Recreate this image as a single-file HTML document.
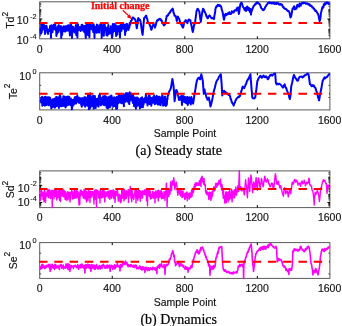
<!DOCTYPE html>
<html><head><meta charset="utf-8"><style>html,body{margin:0;padding:0;background:#fff;width:342px;height:326px;overflow:hidden}svg{display:block;filter:blur(0.35px)}</style></head><body>
<svg width="342" height="326" viewBox="0 0 342 326">
<style>.t{font-family:"Liberation Sans",sans-serif;font-size:10.5px;fill:#111;stroke:#111;stroke-width:0.15px}.sup{font-family:"Liberation Sans",sans-serif;font-size:7.3px;fill:#111;stroke:#111;stroke-width:0.12px}.sup2{font-size:8.5px}.cap{font-family:"Liberation Serif",serif;font-size:14px;fill:#000;stroke:#000;stroke-width:0.2px}</style>
<rect width="342" height="326" fill="#fff"/>
<rect x="39.7" y="1.8" width="290.2" height="37.0" fill="none" stroke="#5a5a5a" stroke-width="1"/>
<line x1="112.25" y1="38.8" x2="112.25" y2="36.3" stroke="#000" stroke-width="1"/>
<line x1="112.25" y1="1.8" x2="112.25" y2="4.3" stroke="#000" stroke-width="1"/>
<line x1="184.80" y1="38.8" x2="184.80" y2="36.3" stroke="#000" stroke-width="1"/>
<line x1="184.80" y1="1.8" x2="184.80" y2="4.3" stroke="#000" stroke-width="1"/>
<line x1="257.35" y1="38.8" x2="257.35" y2="36.3" stroke="#000" stroke-width="1"/>
<line x1="257.35" y1="1.8" x2="257.35" y2="4.3" stroke="#000" stroke-width="1"/>
<line x1="39.7" y1="19.0" x2="42.2" y2="19.0" stroke="#000" stroke-width="1"/>
<line x1="329.9" y1="19.0" x2="327.4" y2="19.0" stroke="#000" stroke-width="1"/>
<line x1="39.7" y1="35.73" x2="41.2" y2="35.73" stroke="#000" stroke-width="0.7"/>
<line x1="329.9" y1="35.73" x2="328.4" y2="35.73" stroke="#000" stroke-width="0.7"/>
<line x1="39.7" y1="34.0" x2="41.2" y2="34.0" stroke="#000" stroke-width="0.7"/>
<line x1="329.9" y1="34.0" x2="328.4" y2="34.0" stroke="#000" stroke-width="0.7"/>
<line x1="39.7" y1="32.77" x2="41.2" y2="32.77" stroke="#000" stroke-width="0.7"/>
<line x1="329.9" y1="32.77" x2="328.4" y2="32.77" stroke="#000" stroke-width="0.7"/>
<line x1="39.7" y1="31.82" x2="41.2" y2="31.82" stroke="#000" stroke-width="0.7"/>
<line x1="329.9" y1="31.82" x2="328.4" y2="31.82" stroke="#000" stroke-width="0.7"/>
<line x1="39.7" y1="31.04" x2="41.2" y2="31.04" stroke="#000" stroke-width="0.7"/>
<line x1="329.9" y1="31.04" x2="328.4" y2="31.04" stroke="#000" stroke-width="0.7"/>
<line x1="39.7" y1="30.38" x2="41.2" y2="30.38" stroke="#000" stroke-width="0.7"/>
<line x1="329.9" y1="30.38" x2="328.4" y2="30.38" stroke="#000" stroke-width="0.7"/>
<line x1="39.7" y1="29.8" x2="41.2" y2="29.8" stroke="#000" stroke-width="0.7"/>
<line x1="329.9" y1="29.8" x2="328.4" y2="29.8" stroke="#000" stroke-width="0.7"/>
<line x1="39.7" y1="29.3" x2="41.2" y2="29.3" stroke="#000" stroke-width="0.7"/>
<line x1="329.9" y1="29.3" x2="328.4" y2="29.3" stroke="#000" stroke-width="0.7"/>
<line x1="39.7" y1="25.88" x2="41.2" y2="25.88" stroke="#000" stroke-width="0.7"/>
<line x1="329.9" y1="25.88" x2="328.4" y2="25.88" stroke="#000" stroke-width="0.7"/>
<line x1="39.7" y1="24.15" x2="41.2" y2="24.15" stroke="#000" stroke-width="0.7"/>
<line x1="329.9" y1="24.15" x2="328.4" y2="24.15" stroke="#000" stroke-width="0.7"/>
<line x1="39.7" y1="22.92" x2="41.2" y2="22.92" stroke="#000" stroke-width="0.7"/>
<line x1="329.9" y1="22.92" x2="328.4" y2="22.92" stroke="#000" stroke-width="0.7"/>
<line x1="39.7" y1="21.97" x2="41.2" y2="21.97" stroke="#000" stroke-width="0.7"/>
<line x1="329.9" y1="21.97" x2="328.4" y2="21.97" stroke="#000" stroke-width="0.7"/>
<line x1="39.7" y1="21.19" x2="41.2" y2="21.19" stroke="#000" stroke-width="0.7"/>
<line x1="329.9" y1="21.19" x2="328.4" y2="21.19" stroke="#000" stroke-width="0.7"/>
<line x1="39.7" y1="20.53" x2="41.2" y2="20.53" stroke="#000" stroke-width="0.7"/>
<line x1="329.9" y1="20.53" x2="328.4" y2="20.53" stroke="#000" stroke-width="0.7"/>
<line x1="39.7" y1="19.95" x2="41.2" y2="19.95" stroke="#000" stroke-width="0.7"/>
<line x1="329.9" y1="19.95" x2="328.4" y2="19.95" stroke="#000" stroke-width="0.7"/>
<line x1="39.7" y1="19.45" x2="41.2" y2="19.45" stroke="#000" stroke-width="0.7"/>
<line x1="329.9" y1="19.45" x2="328.4" y2="19.45" stroke="#000" stroke-width="0.7"/>
<line x1="39.7" y1="16.03" x2="41.2" y2="16.03" stroke="#000" stroke-width="0.7"/>
<line x1="329.9" y1="16.03" x2="328.4" y2="16.03" stroke="#000" stroke-width="0.7"/>
<line x1="39.7" y1="14.3" x2="41.2" y2="14.3" stroke="#000" stroke-width="0.7"/>
<line x1="329.9" y1="14.3" x2="328.4" y2="14.3" stroke="#000" stroke-width="0.7"/>
<line x1="39.7" y1="13.07" x2="41.2" y2="13.07" stroke="#000" stroke-width="0.7"/>
<line x1="329.9" y1="13.07" x2="328.4" y2="13.07" stroke="#000" stroke-width="0.7"/>
<line x1="39.7" y1="12.12" x2="41.2" y2="12.12" stroke="#000" stroke-width="0.7"/>
<line x1="329.9" y1="12.12" x2="328.4" y2="12.12" stroke="#000" stroke-width="0.7"/>
<line x1="39.7" y1="11.34" x2="41.2" y2="11.34" stroke="#000" stroke-width="0.7"/>
<line x1="329.9" y1="11.34" x2="328.4" y2="11.34" stroke="#000" stroke-width="0.7"/>
<line x1="39.7" y1="10.68" x2="41.2" y2="10.68" stroke="#000" stroke-width="0.7"/>
<line x1="329.9" y1="10.68" x2="328.4" y2="10.68" stroke="#000" stroke-width="0.7"/>
<line x1="39.7" y1="10.1" x2="41.2" y2="10.1" stroke="#000" stroke-width="0.7"/>
<line x1="329.9" y1="10.1" x2="328.4" y2="10.1" stroke="#000" stroke-width="0.7"/>
<line x1="39.7" y1="9.6" x2="41.2" y2="9.6" stroke="#000" stroke-width="0.7"/>
<line x1="329.9" y1="9.6" x2="328.4" y2="9.6" stroke="#000" stroke-width="0.7"/>
<line x1="39.7" y1="6.18" x2="41.2" y2="6.18" stroke="#000" stroke-width="0.7"/>
<line x1="329.9" y1="6.18" x2="328.4" y2="6.18" stroke="#000" stroke-width="0.7"/>
<line x1="39.7" y1="4.45" x2="41.2" y2="4.45" stroke="#000" stroke-width="0.7"/>
<line x1="329.9" y1="4.45" x2="328.4" y2="4.45" stroke="#000" stroke-width="0.7"/>
<line x1="39.7" y1="3.22" x2="41.2" y2="3.22" stroke="#000" stroke-width="0.7"/>
<line x1="329.9" y1="3.22" x2="328.4" y2="3.22" stroke="#000" stroke-width="0.7"/>
<rect x="39.7" y="72.8" width="290.2" height="37.10000000000001" fill="none" stroke="#5a5a5a" stroke-width="1"/>
<line x1="112.25" y1="109.9" x2="112.25" y2="107.4" stroke="#000" stroke-width="1"/>
<line x1="112.25" y1="72.8" x2="112.25" y2="75.3" stroke="#000" stroke-width="1"/>
<line x1="184.80" y1="109.9" x2="184.80" y2="107.4" stroke="#000" stroke-width="1"/>
<line x1="184.80" y1="72.8" x2="184.80" y2="75.3" stroke="#000" stroke-width="1"/>
<line x1="257.35" y1="109.9" x2="257.35" y2="107.4" stroke="#000" stroke-width="1"/>
<line x1="257.35" y1="72.8" x2="257.35" y2="75.3" stroke="#000" stroke-width="1"/>
<line x1="39.7" y1="85.3" x2="41.2" y2="85.3" stroke="#000" stroke-width="0.7"/>
<line x1="329.9" y1="85.3" x2="328.4" y2="85.3" stroke="#000" stroke-width="0.7"/>
<line x1="39.7" y1="97.5" x2="41.2" y2="97.5" stroke="#000" stroke-width="0.7"/>
<line x1="329.9" y1="97.5" x2="328.4" y2="97.5" stroke="#000" stroke-width="0.7"/>
<rect x="39.7" y="170.9" width="290.2" height="36.69999999999999" fill="none" stroke="#5a5a5a" stroke-width="1"/>
<line x1="112.25" y1="207.6" x2="112.25" y2="205.1" stroke="#000" stroke-width="1"/>
<line x1="112.25" y1="170.9" x2="112.25" y2="173.4" stroke="#000" stroke-width="1"/>
<line x1="184.80" y1="207.6" x2="184.80" y2="205.1" stroke="#000" stroke-width="1"/>
<line x1="184.80" y1="170.9" x2="184.80" y2="173.4" stroke="#000" stroke-width="1"/>
<line x1="257.35" y1="207.6" x2="257.35" y2="205.1" stroke="#000" stroke-width="1"/>
<line x1="257.35" y1="170.9" x2="257.35" y2="173.4" stroke="#000" stroke-width="1"/>
<line x1="39.7" y1="185.3" x2="42.2" y2="185.3" stroke="#000" stroke-width="1"/>
<line x1="329.9" y1="185.3" x2="327.4" y2="185.3" stroke="#000" stroke-width="1"/>
<line x1="39.7" y1="202.5" x2="42.2" y2="202.5" stroke="#000" stroke-width="1"/>
<line x1="329.9" y1="202.5" x2="327.4" y2="202.5" stroke="#000" stroke-width="1"/>
<line x1="39.7" y1="205.92" x2="41.2" y2="205.92" stroke="#000" stroke-width="0.7"/>
<line x1="329.9" y1="205.92" x2="328.4" y2="205.92" stroke="#000" stroke-width="0.7"/>
<line x1="39.7" y1="205.09" x2="41.2" y2="205.09" stroke="#000" stroke-width="0.7"/>
<line x1="329.9" y1="205.09" x2="328.4" y2="205.09" stroke="#000" stroke-width="0.7"/>
<line x1="39.7" y1="204.41" x2="41.2" y2="204.41" stroke="#000" stroke-width="0.7"/>
<line x1="329.9" y1="204.41" x2="328.4" y2="204.41" stroke="#000" stroke-width="0.7"/>
<line x1="39.7" y1="203.83" x2="41.2" y2="203.83" stroke="#000" stroke-width="0.7"/>
<line x1="329.9" y1="203.83" x2="328.4" y2="203.83" stroke="#000" stroke-width="0.7"/>
<line x1="39.7" y1="203.33" x2="41.2" y2="203.33" stroke="#000" stroke-width="0.7"/>
<line x1="329.9" y1="203.33" x2="328.4" y2="203.33" stroke="#000" stroke-width="0.7"/>
<line x1="39.7" y1="202.89" x2="41.2" y2="202.89" stroke="#000" stroke-width="0.7"/>
<line x1="329.9" y1="202.89" x2="328.4" y2="202.89" stroke="#000" stroke-width="0.7"/>
<line x1="39.7" y1="199.91" x2="41.2" y2="199.91" stroke="#000" stroke-width="0.7"/>
<line x1="329.9" y1="199.91" x2="328.4" y2="199.91" stroke="#000" stroke-width="0.7"/>
<line x1="39.7" y1="198.4" x2="41.2" y2="198.4" stroke="#000" stroke-width="0.7"/>
<line x1="329.9" y1="198.4" x2="328.4" y2="198.4" stroke="#000" stroke-width="0.7"/>
<line x1="39.7" y1="197.32" x2="41.2" y2="197.32" stroke="#000" stroke-width="0.7"/>
<line x1="329.9" y1="197.32" x2="328.4" y2="197.32" stroke="#000" stroke-width="0.7"/>
<line x1="39.7" y1="196.49" x2="41.2" y2="196.49" stroke="#000" stroke-width="0.7"/>
<line x1="329.9" y1="196.49" x2="328.4" y2="196.49" stroke="#000" stroke-width="0.7"/>
<line x1="39.7" y1="195.81" x2="41.2" y2="195.81" stroke="#000" stroke-width="0.7"/>
<line x1="329.9" y1="195.81" x2="328.4" y2="195.81" stroke="#000" stroke-width="0.7"/>
<line x1="39.7" y1="195.23" x2="41.2" y2="195.23" stroke="#000" stroke-width="0.7"/>
<line x1="329.9" y1="195.23" x2="328.4" y2="195.23" stroke="#000" stroke-width="0.7"/>
<line x1="39.7" y1="194.73" x2="41.2" y2="194.73" stroke="#000" stroke-width="0.7"/>
<line x1="329.9" y1="194.73" x2="328.4" y2="194.73" stroke="#000" stroke-width="0.7"/>
<line x1="39.7" y1="194.29" x2="41.2" y2="194.29" stroke="#000" stroke-width="0.7"/>
<line x1="329.9" y1="194.29" x2="328.4" y2="194.29" stroke="#000" stroke-width="0.7"/>
<line x1="39.7" y1="191.31" x2="41.2" y2="191.31" stroke="#000" stroke-width="0.7"/>
<line x1="329.9" y1="191.31" x2="328.4" y2="191.31" stroke="#000" stroke-width="0.7"/>
<line x1="39.7" y1="189.8" x2="41.2" y2="189.8" stroke="#000" stroke-width="0.7"/>
<line x1="329.9" y1="189.8" x2="328.4" y2="189.8" stroke="#000" stroke-width="0.7"/>
<line x1="39.7" y1="188.72" x2="41.2" y2="188.72" stroke="#000" stroke-width="0.7"/>
<line x1="329.9" y1="188.72" x2="328.4" y2="188.72" stroke="#000" stroke-width="0.7"/>
<line x1="39.7" y1="187.89" x2="41.2" y2="187.89" stroke="#000" stroke-width="0.7"/>
<line x1="329.9" y1="187.89" x2="328.4" y2="187.89" stroke="#000" stroke-width="0.7"/>
<line x1="39.7" y1="187.21" x2="41.2" y2="187.21" stroke="#000" stroke-width="0.7"/>
<line x1="329.9" y1="187.21" x2="328.4" y2="187.21" stroke="#000" stroke-width="0.7"/>
<line x1="39.7" y1="186.63" x2="41.2" y2="186.63" stroke="#000" stroke-width="0.7"/>
<line x1="329.9" y1="186.63" x2="328.4" y2="186.63" stroke="#000" stroke-width="0.7"/>
<line x1="39.7" y1="186.13" x2="41.2" y2="186.13" stroke="#000" stroke-width="0.7"/>
<line x1="329.9" y1="186.13" x2="328.4" y2="186.13" stroke="#000" stroke-width="0.7"/>
<line x1="39.7" y1="185.69" x2="41.2" y2="185.69" stroke="#000" stroke-width="0.7"/>
<line x1="329.9" y1="185.69" x2="328.4" y2="185.69" stroke="#000" stroke-width="0.7"/>
<line x1="39.7" y1="182.71" x2="41.2" y2="182.71" stroke="#000" stroke-width="0.7"/>
<line x1="329.9" y1="182.71" x2="328.4" y2="182.71" stroke="#000" stroke-width="0.7"/>
<line x1="39.7" y1="181.2" x2="41.2" y2="181.2" stroke="#000" stroke-width="0.7"/>
<line x1="329.9" y1="181.2" x2="328.4" y2="181.2" stroke="#000" stroke-width="0.7"/>
<line x1="39.7" y1="180.12" x2="41.2" y2="180.12" stroke="#000" stroke-width="0.7"/>
<line x1="329.9" y1="180.12" x2="328.4" y2="180.12" stroke="#000" stroke-width="0.7"/>
<line x1="39.7" y1="179.29" x2="41.2" y2="179.29" stroke="#000" stroke-width="0.7"/>
<line x1="329.9" y1="179.29" x2="328.4" y2="179.29" stroke="#000" stroke-width="0.7"/>
<line x1="39.7" y1="178.61" x2="41.2" y2="178.61" stroke="#000" stroke-width="0.7"/>
<line x1="329.9" y1="178.61" x2="328.4" y2="178.61" stroke="#000" stroke-width="0.7"/>
<line x1="39.7" y1="178.03" x2="41.2" y2="178.03" stroke="#000" stroke-width="0.7"/>
<line x1="329.9" y1="178.03" x2="328.4" y2="178.03" stroke="#000" stroke-width="0.7"/>
<line x1="39.7" y1="177.53" x2="41.2" y2="177.53" stroke="#000" stroke-width="0.7"/>
<line x1="329.9" y1="177.53" x2="328.4" y2="177.53" stroke="#000" stroke-width="0.7"/>
<line x1="39.7" y1="177.09" x2="41.2" y2="177.09" stroke="#000" stroke-width="0.7"/>
<line x1="329.9" y1="177.09" x2="328.4" y2="177.09" stroke="#000" stroke-width="0.7"/>
<line x1="39.7" y1="174.11" x2="41.2" y2="174.11" stroke="#000" stroke-width="0.7"/>
<line x1="329.9" y1="174.11" x2="328.4" y2="174.11" stroke="#000" stroke-width="0.7"/>
<line x1="39.7" y1="172.6" x2="41.2" y2="172.6" stroke="#000" stroke-width="0.7"/>
<line x1="329.9" y1="172.6" x2="328.4" y2="172.6" stroke="#000" stroke-width="0.7"/>
<rect x="39.7" y="242.6" width="290.2" height="35.79999999999998" fill="none" stroke="#5a5a5a" stroke-width="1"/>
<line x1="112.25" y1="278.4" x2="112.25" y2="275.9" stroke="#000" stroke-width="1"/>
<line x1="112.25" y1="242.6" x2="112.25" y2="245.1" stroke="#000" stroke-width="1"/>
<line x1="184.80" y1="278.4" x2="184.80" y2="275.9" stroke="#000" stroke-width="1"/>
<line x1="184.80" y1="242.6" x2="184.80" y2="245.1" stroke="#000" stroke-width="1"/>
<line x1="257.35" y1="278.4" x2="257.35" y2="275.9" stroke="#000" stroke-width="1"/>
<line x1="257.35" y1="242.6" x2="257.35" y2="245.1" stroke="#000" stroke-width="1"/>
<line x1="39.7" y1="253.2" x2="41.2" y2="253.2" stroke="#000" stroke-width="0.7"/>
<line x1="329.9" y1="253.2" x2="328.4" y2="253.2" stroke="#000" stroke-width="0.7"/>
<line x1="39.7" y1="273.9" x2="41.2" y2="273.9" stroke="#000" stroke-width="0.7"/>
<line x1="329.9" y1="273.9" x2="328.4" y2="273.9" stroke="#000" stroke-width="0.7"/>
<clipPath id="c0"><rect x="39.1" y="1.2000000000000002" width="291.8" height="38.2"/></clipPath>
<path clip-path="url(#c0)" d="M40.50,27.34 L40.80,33.71 L41.10,33.32 L41.40,24.61 L41.70,32.32 L42.00,29.56 L42.30,25.15 L42.60,29.80 L42.90,25.95 L43.20,23.57 L43.50,25.11 L43.80,24.02 L44.10,28.54 L44.40,27.14 L44.70,25.92 L45.00,34.00 L45.30,28.23 L45.60,25.95 L45.90,27.01 L46.20,29.45 L46.50,25.83 L46.80,27.84 L47.10,29.33 L47.40,32.43 L47.70,29.71 L48.00,33.85 L48.30,29.98 L48.60,30.83 L48.90,29.78 L49.20,29.16 L49.50,30.98 L49.80,28.67 L50.10,25.97 L50.40,29.86 L50.70,31.00 L51.00,37.80 L51.30,25.18 L51.60,31.88 L51.90,29.85 L52.20,25.91 L52.50,32.15 L52.80,27.41 L53.10,28.97 L53.40,25.12 L53.70,25.53 L54.00,29.33 L54.30,24.38 L54.60,24.86 L54.90,27.21 L55.20,23.93 L55.50,26.39 L55.80,30.10 L56.10,27.81 L56.40,35.96 L56.70,29.83 L57.00,30.11 L57.30,33.65 L57.60,32.02 L57.90,26.36 L58.20,31.85 L58.50,25.71 L58.80,25.04 L59.10,28.70 L59.40,26.17 L59.70,26.79 L60.00,30.03 L60.30,27.36 L60.60,32.07 L60.90,25.96 L61.20,37.97 L61.50,28.01 L61.80,33.20 L62.10,35.00 L62.40,29.48 L62.70,27.15 L63.00,30.04 L63.30,30.04 L63.60,26.18 L63.90,31.24 L64.20,29.94 L64.50,29.40 L64.80,27.90 L65.10,31.62 L65.40,26.22 L65.70,30.60 L66.00,30.53 L66.30,30.72 L66.60,26.11 L66.90,26.01 L67.20,28.87 L67.50,30.37 L67.80,29.14 L68.10,25.25 L68.40,30.82 L68.70,29.62 L69.00,25.54 L69.30,26.44 L69.60,30.68 L69.90,35.50 L70.20,28.68 L70.50,24.45 L70.80,29.82 L71.10,24.55 L71.40,30.56 L71.70,26.26 L72.00,38.00 L72.30,28.99 L72.60,31.46 L72.90,31.35 L73.20,26.64 L73.50,27.53 L73.80,29.97 L74.10,28.80 L74.40,32.54 L74.70,29.06 L75.00,32.18 L75.30,31.99 L75.60,28.89 L75.90,24.94 L76.20,35.00 L76.50,25.35 L76.80,28.90 L77.10,25.85 L77.40,37.50 L77.70,23.91 L78.00,24.86 L78.30,28.79 L78.60,27.29 L78.90,30.13 L79.20,27.95 L79.50,27.31 L79.80,26.97 L80.10,27.30 L80.40,29.10 L80.70,30.97 L81.00,28.11 L81.30,30.13 L81.60,25.00 L81.90,24.71 L82.20,24.76 L82.50,29.65 L82.80,25.41 L83.10,28.99 L83.40,30.71 L83.70,26.12 L84.00,27.57 L84.30,32.28 L84.60,25.97 L84.90,28.91 L85.20,26.32 L85.50,34.91 L85.80,38.00 L86.10,29.80 L86.40,24.80 L86.70,30.80 L87.00,24.73 L87.30,23.97 L87.60,25.66 L87.90,35.00 L88.20,29.67 L88.50,24.26 L88.80,27.53 L89.10,33.48 L89.40,37.18 L89.70,28.39 L90.00,24.29 L90.30,24.39 L90.60,27.72 L90.90,28.75 L91.20,26.66 L91.50,28.87 L91.80,25.62 L92.10,25.17 L92.40,27.14 L92.70,30.39 L93.00,28.21 L93.30,32.27 L93.60,24.17 L93.90,27.83 L94.20,27.08 L94.50,38.00 L94.80,26.55 L95.10,29.60 L95.40,27.21 L95.70,31.18 L96.00,30.28 L96.30,28.95 L96.60,32.72 L96.90,24.56 L97.20,26.41 L97.50,25.06 L97.80,32.26 L98.10,27.07 L98.40,27.19 L98.70,26.00 L99.00,26.85 L99.30,32.58 L99.60,26.47 L99.90,26.84 L100.20,24.32 L100.50,27.81 L100.80,25.62 L101.10,24.06 L101.40,24.63 L101.70,38.00 L102.00,25.65 L102.30,27.95 L102.60,28.98 L102.90,30.78 L103.20,26.27 L103.50,24.76 L103.80,35.63 L104.10,30.67 L104.40,29.24 L104.70,24.23 L105.00,27.11 L105.30,29.46 L105.60,27.62 L105.90,28.43 L106.20,31.37 L106.50,35.18 L106.80,27.83 L107.10,35.50 L107.40,35.53 L107.70,30.25 L108.00,28.77 L108.30,25.05 L108.60,33.95 L108.90,31.12 L109.20,31.30 L109.50,29.15 L109.80,28.93 L110.10,31.26 L110.40,33.37 L110.70,26.26 L111.00,26.37 L111.30,32.69 L111.60,28.86 L111.90,37.50 L112.20,27.02 L112.50,35.92 L112.80,24.04 L113.10,32.26 L113.40,29.41 L113.70,26.30 L114.00,24.35 L114.30,24.51 L114.60,24.08 L114.90,31.29 L115.20,30.26 L115.50,30.91 L115.80,25.36 L116.10,36.00 L116.40,27.57 L116.70,25.95 L117.00,26.24 L117.30,34.56 L117.60,30.10 L117.90,30.73 L118.20,30.48 L118.50,26.21 L118.80,31.25 L119.10,26.13 L119.40,31.59 L119.70,30.08 L120.00,37.50 L120.30,25.48 L120.60,24.85 L120.90,31.25 L121.20,30.02 L121.50,30.85 L121.80,27.67 L122.10,23.25 L122.40,26.64 L122.70,28.25 L123.00,22.89 L123.30,23.51 L123.60,25.41 L123.90,28.96 L124.20,24.69 L124.50,25.12 L124.80,26.03 L125.10,35.00 L125.40,30.56 L125.70,24.80 L126.00,31.22 L126.30,24.25 L126.60,23.87 L126.90,23.83 L127.20,24.99 L127.50,29.44 L127.80,25.74 L128.10,26.28 L128.40,30.09 L128.70,28.83 L129.00,25.25 L129.30,27.63 L129.60,23.19 L129.90,24.02 L130.00,25.00 L130.45,23.64 L130.90,21.00 L131.34,20.77 L131.78,20.08 L132.22,18.17 L132.66,17.47 L133.10,17.40 L133.54,18.11 L133.98,18.79 L134.42,18.62 L134.86,19.20 L135.30,19.50 L135.80,21.73 L136.30,25.21 L136.80,28.30 L137.27,25.46 L137.73,21.89 L138.20,18.00 L138.64,19.10 L139.08,19.86 L139.52,19.45 L139.96,19.85 L140.40,21.00 L140.84,23.30 L141.28,26.59 L141.72,29.59 L142.16,32.74 L142.60,34.90 L143.10,29.58 L143.60,23.84 L144.10,18.00 L144.54,17.95 L144.98,17.10 L145.42,16.81 L145.86,15.68 L146.30,15.90 L146.77,18.00 L147.23,18.93 L147.70,21.00 L148.14,22.47 L148.58,22.96 L149.02,23.37 L149.46,24.00 L149.90,25.40 L150.40,26.52 L150.90,28.52 L151.40,29.80 L151.84,28.90 L152.28,26.90 L152.72,25.66 L153.16,25.11 L153.60,23.90 L154.07,25.25 L154.53,26.21 L155.00,27.60 L155.44,25.75 L155.88,24.82 L156.32,22.53 L156.76,21.48 L157.20,20.30 L157.64,19.94 L158.08,20.34 L158.52,19.60 L158.96,19.64 L159.40,18.80 L159.84,19.07 L160.28,19.03 L160.72,19.35 L161.16,20.64 L161.60,20.30 L162.04,21.61 L162.48,22.07 L162.92,22.69 L163.36,24.38 L163.80,25.40 L164.30,25.14 L164.80,24.29 L165.30,23.90 L165.77,20.89 L166.23,18.80 L166.70,15.90 L167.20,16.26 L167.70,15.05 L168.20,15.20 L168.64,13.81 L169.08,13.49 L169.52,12.87 L169.96,12.50 L170.40,11.50 L170.84,10.50 L171.28,10.76 L171.72,10.09 L172.16,9.19 L172.60,8.60 L173.07,9.91 L173.55,12.71 L174.03,13.51 L174.50,15.50 L175.10,16.20 L175.70,16.00 L176.25,18.12 L176.80,21.00 L177.35,18.41 L177.90,16.60 L178.40,17.93 L178.90,18.25 L179.40,19.50 L179.87,21.60 L180.33,22.43 L180.80,23.90 L181.24,24.20 L181.68,24.99 L182.12,26.00 L182.56,27.09 L183.00,27.60 L183.50,26.26 L184.00,23.17 L184.50,21.70 L185.00,21.08 L185.50,20.36 L186.00,20.30 L186.47,21.93 L186.93,21.73 L187.40,23.20 L187.90,21.34 L188.40,20.12 L188.90,19.50 L189.40,19.62 L189.90,20.59 L190.40,20.30 L190.87,23.04 L191.33,25.03 L191.80,26.90 L192.30,30.15 L192.80,32.00 L193.40,29.30 L194.00,25.40 L194.50,24.16 L195.00,23.40 L195.50,18.83 L196.00,15.74 L196.50,11.00 L196.97,10.61 L197.43,8.88 L197.90,8.80 L198.40,10.00 L198.90,10.56 L199.40,11.70 L200.10,17.50 L200.80,21.90 L201.60,16.10 L202.07,13.49 L202.53,11.00 L203.00,8.80 L203.50,9.30 L204.00,10.04 L204.50,11.70 L205.00,12.36 L205.50,13.43 L206.00,14.60 L206.47,16.47 L206.93,16.54 L207.40,18.30 L207.90,18.22 L208.40,16.42 L208.90,16.10 L209.60,15.40 L210.10,15.90 L210.60,17.25 L211.10,17.50 L211.57,18.22 L212.03,17.94 L212.50,18.30 L213.00,17.90 L213.50,18.73 L214.00,19.00 L214.50,15.42 L215.00,12.79 L215.50,8.80 L215.97,7.37 L216.43,6.61 L216.90,5.80 L217.34,6.22 L217.78,4.86 L218.22,5.26 L218.66,5.68 L219.10,5.10 L219.54,5.91 L219.98,5.34 L220.42,5.77 L220.86,6.25 L221.30,7.30 L221.80,9.85 L222.30,10.89 L222.80,13.20 L223.40,16.80 L224.00,19.70 L224.50,17.71 L225.00,14.60 L225.44,14.07 L225.88,13.77 L226.32,15.28 L226.76,14.32 L227.20,13.90 L227.61,13.23 L228.03,14.22 L228.44,13.16 L228.86,12.96 L229.27,12.21 L229.69,13.91 L230.10,13.20 L230.51,13.99 L230.93,13.09 L231.34,13.62 L231.76,11.20 L232.17,11.49 L232.59,11.85 L233.00,11.70 L233.41,12.58 L233.83,12.36 L234.24,10.78 L234.66,10.25 L235.07,10.46 L235.49,10.40 L235.90,10.20 L236.34,10.65 L236.78,8.28 L237.22,8.88 L237.66,8.21 L238.10,7.30 L238.50,11.05 L238.90,13.90 L239.37,11.12 L239.83,7.72 L240.30,4.40 L240.90,3.26 L241.50,2.60 L241.93,3.52 L242.35,4.76 L242.77,6.52 L243.20,7.30 L243.70,7.68 L244.20,8.81 L244.70,10.20 L245.20,8.00 L245.60,10.41 L246.00,11.00 L246.70,7.00 L247.40,6.60 L248.20,10.00 L248.60,8.09 L249.00,8.00 L249.40,8.43 L249.80,12.00 L250.50,9.00 L251.00,14.60 L251.40,11.12 L251.80,11.00 L252.50,8.80 L253.00,7.77 L253.50,6.36 L254.00,5.50 L254.47,5.57 L254.93,4.84 L255.40,3.70 L255.84,4.14 L256.28,2.89 L256.72,2.40 L257.16,2.17 L257.60,2.50 L258.04,2.88 L258.48,3.55 L258.92,3.57 L259.36,3.65 L259.80,4.40 L260.30,5.48 L260.80,6.97 L261.30,8.00 L261.74,8.68 L262.18,9.23 L262.62,9.81 L263.06,9.99 L263.50,10.20 L263.97,8.94 L264.43,9.21 L264.90,8.00 L265.40,6.74 L265.90,6.16 L266.40,5.10 L266.84,4.42 L267.28,4.43 L267.72,3.18 L268.16,2.75 L268.60,2.60 L269.05,2.28 L269.50,2.19 L269.95,3.25 L270.40,2.86 L270.85,2.54 L271.30,2.68 L271.75,3.55 L272.20,2.90 L272.62,2.97 L273.04,2.64 L273.46,3.50 L273.89,3.34 L274.31,3.87 L274.73,2.69 L275.15,3.26 L275.57,3.80 L275.99,3.89 L276.41,4.05 L276.84,2.89 L277.26,3.30 L277.68,3.11 L278.10,3.70 L278.55,3.35 L279.00,4.54 L279.45,4.08 L279.90,4.65 L280.35,3.96 L280.80,4.74 L281.25,4.24 L281.70,4.40 L282.14,4.78 L282.58,6.23 L283.02,7.18 L283.46,6.73 L283.90,8.00 L284.33,8.45 L284.76,8.80 L285.19,8.55 L285.61,9.07 L286.04,9.07 L286.47,9.47 L286.90,10.20 L287.34,10.16 L287.78,10.94 L288.22,11.31 L288.66,10.98 L289.10,11.70 L289.57,12.95 L290.03,15.32 L290.50,17.50 L291.20,16.00 L291.60,14.10 L292.00,11.70 L292.55,8.61 L293.10,8.80 L293.60,7.32 L294.10,6.26 L294.60,7.30 L295.05,9.44 L295.50,8.50 L296.20,8.80 L296.62,8.45 L297.05,5.33 L297.47,4.93 L297.90,6.40 L298.30,5.67 L298.70,6.29 L299.10,6.57 L299.50,3.54 L299.90,3.73 L300.30,5.30 L300.73,5.74 L301.15,3.68 L301.57,3.27 L302.00,3.00 L302.48,2.69 L302.96,3.55 L303.44,2.62 L303.92,2.93 L304.40,2.80 L304.86,2.70 L305.32,2.88 L305.78,3.61 L306.24,3.90 L306.70,3.30 L307.16,3.39 L307.62,3.44 L308.08,4.46 L308.54,4.01 L309.00,4.70 L309.48,4.23 L309.96,5.70 L310.44,5.25 L310.92,6.03 L311.40,5.80 L311.86,6.27 L312.32,7.54 L312.78,7.55 L313.24,7.73 L313.70,8.80 L314.11,8.54 L314.53,9.70 L314.94,10.24 L315.36,11.03 L315.77,10.30 L316.19,11.46 L316.60,11.70 L317.05,12.39 L317.50,13.46 L317.95,13.83 L318.40,15.20 L318.80,16.83 L319.20,19.10 L319.60,21.00 L320.05,19.85 L320.50,17.50 L320.90,13.19 L321.30,11.70 L321.90,9.32 L322.50,7.00 L322.93,7.60 L323.35,7.68 L323.77,4.41 L324.20,5.00 L324.65,3.16 L325.10,4.62 L325.55,4.17 L326.00,3.00 L326.43,2.88 L326.85,2.17 L327.27,3.30 L327.70,2.60 L328.15,2.84 L328.60,3.97 L329.05,3.97 L329.50,4.20" fill="none" stroke="#0000ff" stroke-width="2.0" stroke-linejoin="round"/>
<clipPath id="c1"><rect x="39.1" y="72.2" width="291.8" height="38.30000000000001"/></clipPath>
<path d="M40.50,98.13 L41.50,98.20 L42.50,98.27 L43.50,98.38 L44.50,98.54 L45.50,98.70 L46.50,98.94 L47.50,99.18 L48.50,99.38 L49.50,99.53 L50.50,99.67 L51.50,99.83 L52.50,99.85 L53.50,99.75 L54.50,99.65 L55.50,99.55 L56.50,99.45 L57.50,99.35 L58.50,99.20 L59.50,99.00 L60.50,98.80 L61.50,98.70 L62.50,98.70 L63.50,98.70 L64.50,98.78 L65.50,98.92 L66.50,99.08 L67.50,99.22 L68.50,99.26 L69.50,99.19 L70.50,99.11 L71.50,99.04 L72.50,98.95 L73.50,98.85 L74.50,98.75 L75.50,98.70 L76.50,98.70 L77.50,98.70 L78.50,98.74 L79.50,98.81 L80.50,98.89 L81.50,98.96 L82.50,98.88 L83.50,98.62 L84.50,98.38 L85.50,98.12 L86.50,97.94 L87.50,97.81 L88.50,97.69 L89.50,97.56 L90.50,97.53 L91.50,97.58 L92.50,97.62 L93.50,97.67 L94.50,97.77 L95.50,97.90 L96.50,98.03 L97.50,98.10 L98.50,98.10 L99.50,98.10 L100.50,98.10 L101.50,98.10 L102.50,98.17 L103.50,98.30 L104.50,98.43 L105.50,98.50 L106.50,98.50 L107.50,98.50 L108.50,98.42 L109.50,98.25 L110.50,98.08 L111.50,98.00 L112.50,98.00 L113.50,98.00 L114.50,98.00 L115.50,98.02 L116.50,98.05 L117.50,98.08 L118.50,98.07 L119.50,98.00 L120.50,97.93 L121.50,97.58 L122.50,96.95 L123.50,96.32 L124.50,95.75 L125.50,95.25 L126.50,94.75 L127.50,94.67 L128.50,95.00 L129.50,95.33 L130.50,95.83 L131.50,96.50 L132.50,97.17 L133.50,97.83 L134.50,98.50 L135.50,99.17 L136.50,99.56 L137.50,99.69 L138.50,99.81 L139.50,99.94 L140.50,99.96 L141.50,99.89 L142.50,99.81 L143.50,99.74 L144.50,99.43 L145.50,98.90 L146.50,98.37 L147.50,97.92 L148.50,97.55 L149.50,97.18 L150.50,96.96 L151.50,96.89 L152.50,96.81 L153.50,96.74 L154.50,96.80 L155.50,97.00 L156.50,97.20 L157.50,97.40 L158.50,97.56 L159.50,97.69 L160.50,97.81 L161.50,97.94 L162.50,98.00 L163.50,98.00 L164.50,98.00 L165.50,98.10 L166.50,98.30 L167.50,98.50 L167.50,102.00 L166.50,102.40 L165.50,102.80 L164.50,102.92 L163.50,102.75 L162.50,102.58 L161.50,102.44 L160.50,102.31 L159.50,102.19 L158.50,102.06 L157.50,101.91 L156.50,101.74 L155.50,101.56 L154.50,101.39 L153.50,101.35 L152.50,101.45 L151.50,101.55 L150.50,101.65 L149.50,101.88 L148.50,102.25 L147.50,102.62 L146.50,102.92 L145.50,103.15 L144.50,103.38 L143.50,103.62 L142.50,103.88 L141.50,104.12 L140.50,104.38 L139.50,104.47 L138.50,104.42 L137.50,104.38 L136.50,104.33 L135.50,103.92 L134.50,103.15 L133.50,102.38 L132.50,101.75 L131.50,101.25 L130.50,100.75 L129.50,100.40 L128.50,100.20 L127.50,100.00 L126.50,99.97 L125.50,100.10 L124.50,100.23 L123.50,100.42 L122.50,100.65 L121.50,100.88 L120.50,101.17 L119.50,101.50 L118.50,101.83 L117.50,102.25 L116.50,102.75 L115.50,103.25 L114.50,103.69 L113.50,104.06 L112.50,104.44 L111.50,104.81 L110.50,105.08 L109.50,105.25 L108.50,105.42 L107.50,105.17 L106.50,104.50 L105.50,103.83 L104.50,103.08 L103.50,102.25 L102.50,101.42 L101.50,101.20 L100.50,101.60 L99.50,102.00 L98.50,102.40 L97.50,102.80 L96.50,103.33 L95.50,104.00 L94.50,104.67 L93.50,105.12 L92.50,105.38 L91.50,105.62 L90.50,105.88 L89.50,105.88 L88.50,105.62 L87.50,105.38 L86.50,105.12 L85.50,104.75 L84.50,104.25 L83.50,103.75 L82.50,103.25 L81.50,102.81 L80.50,102.44 L79.50,102.06 L78.50,101.69 L77.50,101.75 L76.50,102.25 L75.50,102.75 L74.50,103.25 L73.50,103.75 L72.50,104.25 L71.50,104.46 L70.50,104.39 L69.50,104.31 L68.50,104.24 L67.50,104.11 L66.50,103.94 L65.50,103.76 L64.50,103.59 L63.50,103.55 L62.50,103.65 L61.50,103.75 L60.50,103.97 L59.50,104.30 L58.50,104.63 L57.50,104.72 L56.50,104.58 L55.50,104.46 L54.50,104.39 L53.50,104.31 L52.50,104.24 L51.50,104.05 L50.50,103.75 L49.50,103.45 L48.50,103.15 L47.50,102.90 L46.50,102.70 L45.50,102.50 L44.50,101.90 L43.50,101.30 L42.50,100.85 L41.50,100.55 L40.50,100.25 Z" fill="#0000ff"/>
<path clip-path="url(#c1)" d="M40.50,102.39 L40.70,102.17 L40.90,99.49 L41.10,102.55 L41.30,98.14 L41.50,100.30 L41.70,97.39 L41.90,101.79 L42.10,96.69 L42.30,105.64 L42.50,97.16 L42.70,100.41 L42.90,98.53 L43.10,100.66 L43.30,101.30 L43.50,105.02 L43.70,100.05 L43.90,102.33 L44.10,99.90 L44.30,100.08 L44.50,97.24 L44.70,96.95 L44.90,105.80 L45.10,96.90 L45.30,103.03 L45.50,96.67 L45.70,99.55 L45.90,97.41 L46.10,105.04 L46.30,103.42 L46.50,104.88 L46.70,104.63 L46.90,97.59 L47.10,104.34 L47.30,99.19 L47.50,97.47 L47.70,98.48 L47.90,97.32 L48.10,104.17 L48.30,98.38 L48.50,105.14 L48.70,97.53 L48.90,102.21 L49.10,97.71 L49.30,97.31 L49.50,102.10 L49.70,104.36 L49.90,101.85 L50.10,97.67 L50.30,102.59 L50.50,104.28 L50.70,106.21 L50.90,100.59 L51.10,101.50 L51.30,108.50 L51.50,100.03 L51.70,106.91 L51.90,104.05 L52.10,107.41 L52.30,103.71 L52.50,102.75 L52.70,99.17 L52.90,107.00 L53.10,101.19 L53.30,101.15 L53.50,103.22 L53.70,99.55 L53.90,102.03 L54.10,106.32 L54.30,98.75 L54.50,103.32 L54.70,104.61 L54.90,107.66 L55.10,102.38 L55.30,103.13 L55.50,105.90 L55.70,99.24 L55.90,97.24 L56.10,100.76 L56.30,97.38 L56.50,96.94 L56.70,106.16 L56.90,98.86 L57.10,101.99 L57.30,105.17 L57.50,100.14 L57.70,97.52 L57.90,105.16 L58.10,97.13 L58.30,104.83 L58.50,104.79 L58.70,99.38 L58.90,107.88 L59.10,104.81 L59.30,105.78 L59.50,99.61 L59.70,101.33 L59.90,94.50 L60.10,103.35 L60.30,98.75 L60.50,96.50 L60.70,98.75 L60.90,106.19 L61.10,99.54 L61.30,99.51 L61.50,105.60 L61.70,103.28 L61.90,106.25 L62.10,104.73 L62.30,104.87 L62.50,103.45 L62.70,99.11 L62.90,102.34 L63.10,105.24 L63.30,96.28 L63.50,105.32 L63.70,106.01 L63.90,102.88 L64.10,102.90 L64.30,96.79 L64.50,99.68 L64.70,104.03 L64.90,96.86 L65.10,104.84 L65.30,97.25 L65.50,107.42 L65.70,103.75 L65.90,103.83 L66.10,98.84 L66.30,97.08 L66.50,98.04 L66.70,105.64 L66.90,98.75 L67.10,99.55 L67.30,105.11 L67.50,104.13 L67.70,96.54 L67.90,100.42 L68.10,99.66 L68.30,101.58 L68.50,104.85 L68.70,104.60 L68.90,96.65 L69.10,104.40 L69.30,96.89 L69.50,102.00 L69.70,98.98 L69.90,100.81 L70.10,100.03 L70.30,100.39 L70.50,104.97 L70.70,98.71 L70.90,98.45 L71.10,105.24 L71.30,104.52 L71.50,102.03 L71.70,107.43 L71.90,109.60 L72.10,100.36 L72.30,102.84 L72.50,106.81 L72.70,102.06 L72.90,104.97 L73.10,103.60 L73.30,100.08 L73.50,105.11 L73.70,103.84 L73.90,100.61 L74.10,101.77 L74.30,100.44 L74.50,98.16 L74.70,98.61 L74.90,103.42 L75.10,97.07 L75.30,98.51 L75.50,96.99 L75.70,97.19 L75.90,101.71 L76.10,103.57 L76.30,98.72 L76.50,102.03 L76.70,99.07 L76.90,100.67 L77.10,97.22 L77.30,95.86 L77.50,101.77 L77.70,99.48 L77.90,99.18 L78.10,100.28 L78.30,101.44 L78.50,99.07 L78.70,101.70 L78.90,97.55 L79.10,102.98 L79.30,101.59 L79.50,101.51 L79.70,99.69 L79.90,101.28 L80.10,99.58 L80.30,102.25 L80.50,98.30 L80.70,100.23 L80.90,99.95 L81.10,104.74 L81.30,102.42 L81.50,100.18 L81.70,106.63 L81.90,98.42 L82.10,105.62 L82.30,98.07 L82.50,102.23 L82.70,102.07 L82.90,105.17 L83.10,101.26 L83.30,99.36 L83.50,101.16 L83.70,98.49 L83.90,100.79 L84.10,99.93 L84.30,97.16 L84.50,101.32 L84.70,100.52 L84.90,99.03 L85.10,106.78 L85.30,98.70 L85.50,100.52 L85.70,97.36 L85.90,105.21 L86.10,101.09 L86.30,98.05 L86.50,99.49 L86.70,105.16 L86.90,100.75 L87.10,101.72 L87.30,105.35 L87.50,105.60 L87.70,99.45 L87.90,100.11 L88.10,94.50 L88.30,98.22 L88.50,98.53 L88.70,100.28 L88.90,109.30 L89.10,107.26 L89.30,95.32 L89.50,107.10 L89.70,96.54 L89.90,108.54 L90.10,107.85 L90.30,93.20 L90.50,96.69 L90.70,105.26 L90.90,96.86 L91.10,105.30 L91.30,106.51 L91.50,104.98 L91.70,106.33 L91.90,105.52 L92.10,103.59 L92.30,104.13 L92.50,105.78 L92.70,98.20 L92.90,96.69 L93.10,95.75 L93.30,96.81 L93.50,101.02 L93.70,108.77 L93.90,100.74 L94.10,103.05 L94.30,99.74 L94.50,106.41 L94.70,102.77 L94.90,96.05 L95.10,103.32 L95.30,99.50 L95.50,101.50 L95.70,108.03 L95.90,102.74 L96.10,105.23 L96.30,101.12 L96.50,104.17 L96.70,100.64 L96.90,101.79 L97.10,99.06 L97.30,100.11 L97.50,98.68 L97.70,105.67 L97.90,103.70 L98.10,98.82 L98.30,101.38 L98.50,106.61 L98.70,104.05 L98.90,95.80 L99.10,95.32 L99.30,103.95 L99.50,101.34 L99.70,103.58 L99.90,93.80 L100.10,101.44 L100.30,101.24 L100.50,101.07 L100.70,101.86 L100.90,105.32 L101.10,103.05 L101.30,98.54 L101.50,101.94 L101.70,97.71 L101.90,99.03 L102.10,99.18 L102.30,103.30 L102.50,104.13 L102.70,102.64 L102.90,103.68 L103.10,96.21 L103.30,101.17 L103.50,104.64 L103.70,99.74 L103.90,101.87 L104.10,105.19 L104.30,102.36 L104.50,105.10 L104.70,104.27 L104.90,96.01 L105.10,98.19 L105.30,97.60 L105.50,103.59 L105.70,104.51 L105.90,96.44 L106.10,103.12 L106.30,105.63 L106.50,106.10 L106.70,107.69 L106.90,104.74 L107.10,99.10 L107.30,97.51 L107.50,101.31 L107.70,100.02 L107.90,108.50 L108.10,97.53 L108.30,100.15 L108.50,103.33 L108.70,100.44 L108.90,107.08 L109.10,102.59 L109.30,96.59 L109.50,104.17 L109.70,99.76 L109.90,107.36 L110.10,102.88 L110.30,100.81 L110.50,100.16 L110.70,102.79 L110.90,105.20 L111.10,95.61 L111.30,100.58 L111.50,105.20 L111.70,96.09 L111.90,105.11 L112.10,102.30 L112.30,105.57 L112.50,103.65 L112.70,99.76 L112.90,102.19 L113.10,98.15 L113.30,106.60 L113.50,102.91 L113.70,101.32 L113.90,98.97 L114.10,105.05 L114.30,97.15 L114.50,104.79 L114.70,102.62 L114.90,105.92 L115.10,101.37 L115.30,98.20 L115.50,98.04 L115.70,99.85 L115.90,100.12 L116.10,108.80 L116.30,99.51 L116.50,101.87 L116.70,97.05 L116.90,98.68 L117.10,108.80 L117.30,103.05 L117.50,100.11 L117.70,101.76 L117.90,102.97 L118.10,101.67 L118.30,103.24 L118.50,96.05 L118.70,94.91 L118.90,101.56 L119.10,102.11 L119.30,94.97 L119.50,97.66 L119.70,102.15 L119.90,99.05 L120.10,102.21 L120.30,97.84 L120.50,96.10 L120.70,102.73 L120.90,95.34 L121.10,97.88 L121.30,102.37 L121.50,95.43 L121.70,100.95 L121.90,103.35 L122.10,96.18 L122.30,103.11 L122.50,97.47 L122.70,101.57 L122.90,97.60 L123.10,95.69 L123.30,96.01 L123.50,95.67 L123.70,94.31 L123.90,106.34 L124.10,96.10 L124.30,102.34 L124.50,95.14 L124.70,94.62 L124.90,101.94 L125.10,97.99 L125.30,101.63 L125.50,99.61 L125.70,95.45 L125.90,100.34 L126.10,93.00 L126.30,95.67 L126.50,94.45 L126.70,101.35 L126.90,94.39 L127.10,95.89 L127.30,93.84 L127.50,93.28 L127.70,99.48 L127.90,97.54 L128.10,95.31 L128.30,96.35 L128.50,102.66 L128.70,93.60 L128.90,101.53 L129.10,99.78 L129.30,104.11 L129.50,95.82 L129.70,92.37 L129.90,97.59 L130.10,96.68 L130.30,94.54 L130.50,93.79 L130.70,100.22 L130.90,94.55 L131.10,93.56 L131.30,97.78 L131.50,95.03 L131.70,100.21 L131.90,99.14 L132.10,94.20 L132.30,97.80 L132.50,94.56 L132.70,97.54 L132.90,102.89 L133.10,94.94 L133.30,99.63 L133.50,97.86 L133.70,103.49 L133.90,97.36 L134.10,106.23 L134.30,100.46 L134.50,97.60 L134.70,104.29 L134.90,99.82 L135.10,100.53 L135.30,97.70 L135.50,106.09 L135.70,102.12 L135.90,108.80 L136.10,99.58 L136.30,98.44 L136.50,106.80 L136.70,103.90 L136.90,97.58 L137.10,102.74 L137.30,103.92 L137.50,105.50 L137.70,97.77 L137.90,102.03 L138.10,100.02 L138.30,101.27 L138.50,103.12 L138.70,98.86 L138.90,104.79 L139.10,105.67 L139.30,101.41 L139.50,105.99 L139.70,101.60 L139.90,108.50 L140.10,100.10 L140.30,102.06 L140.50,105.78 L140.70,105.84 L140.90,98.08 L141.10,107.13 L141.30,99.93 L141.50,103.67 L141.70,102.55 L141.90,101.47 L142.10,97.36 L142.30,106.39 L142.50,105.90 L142.70,104.53 L142.90,107.16 L143.10,99.27 L143.30,99.27 L143.50,104.96 L143.70,98.96 L143.90,100.50 L144.10,99.19 L144.30,102.16 L144.50,101.65 L144.70,100.92 L144.90,100.48 L145.10,97.77 L145.30,97.60 L145.50,99.91 L145.70,98.51 L145.90,94.00 L146.10,101.63 L146.30,101.98 L146.50,102.50 L146.70,101.05 L146.90,100.30 L147.10,98.18 L147.30,100.59 L147.50,105.49 L147.70,103.73 L147.90,100.78 L148.10,98.09 L148.30,98.07 L148.50,96.60 L148.70,103.45 L148.90,95.35 L149.10,98.97 L149.30,95.53 L149.50,103.99 L149.70,95.73 L149.90,97.64 L150.10,100.28 L150.30,102.37 L150.50,101.52 L150.70,101.74 L150.90,102.01 L151.10,103.36 L151.30,105.70 L151.50,100.05 L151.70,103.92 L151.90,98.44 L152.10,103.06 L152.30,98.16 L152.50,98.99 L152.70,97.40 L152.90,100.01 L153.10,97.76 L153.30,102.87 L153.50,98.96 L153.70,97.62 L153.90,100.17 L154.10,95.58 L154.30,97.82 L154.50,102.62 L154.70,96.73 L154.90,104.15 L155.10,100.06 L155.30,103.33 L155.50,99.80 L155.70,99.60 L155.90,101.15 L156.10,98.12 L156.30,98.07 L156.50,101.13 L156.70,95.76 L156.90,98.62 L157.10,100.29 L157.30,104.03 L157.50,99.13 L157.70,104.48 L157.90,100.10 L158.10,96.70 L158.30,104.51 L158.50,100.06 L158.70,103.78 L158.90,103.09 L159.10,103.76 L159.30,96.67 L159.50,100.10 L159.70,96.94 L159.90,101.18 L160.10,98.46 L160.30,105.16 L160.50,102.52 L160.70,104.84 L160.90,102.89 L161.10,101.16 L161.30,99.48 L161.50,97.24 L161.70,99.69 L161.90,100.06 L162.10,95.82 L162.30,101.76 L162.50,95.61 L162.70,99.59 L162.90,100.49 L163.10,105.68 L163.30,97.93 L163.50,98.33 L163.70,97.63 L163.90,103.85 L164.10,98.70 L164.30,99.21 L164.50,104.28 L164.70,105.16 L164.90,102.01 L165.10,96.48 L165.30,104.56 L165.50,105.07 L165.70,99.40 L165.90,105.90 L166.10,105.68 L166.30,100.41 L166.50,98.86 L166.70,104.93 L166.90,104.11 L167.10,98.40 L167.30,98.48 L167.50,99.35 L167.60,96.60 L168.23,94.96 L168.87,92.32 L169.50,91.00 L170.20,89.64 L170.90,88.10 L171.40,84.87 L171.90,82.03 L172.40,79.00 L173.00,82.52 L173.60,86.60 L174.10,93.29 L174.60,101.20 L175.13,97.20 L175.67,93.35 L176.20,90.00 L176.85,90.73 L177.50,92.50 L178.00,95.30 L178.50,97.20 L179.00,100.00 L179.70,98.31 L180.40,96.90 L180.60,96.43 L180.80,99.79 L181.00,98.62 L181.20,98.77 L181.40,96.11 L181.60,96.58 L181.80,102.13 L182.00,105.00 L182.20,97.58 L182.40,97.17 L182.60,97.91 L182.80,97.56 L183.00,96.00 L183.20,100.90 L183.40,98.41 L183.60,96.99 L183.80,101.24 L184.00,96.53 L184.20,97.91 L184.40,102.24 L184.60,96.85 L184.80,99.27 L185.00,102.26 L185.20,102.02 L185.40,97.15 L185.60,98.62 L185.80,101.41 L186.00,98.83 L186.20,103.20 L186.40,97.59 L186.60,103.18 L186.80,99.85 L187.00,97.79 L187.20,99.49 L187.40,97.10 L187.60,101.43 L187.80,105.00 L188.00,102.91 L188.20,100.59 L188.40,98.96 L188.60,98.06 L188.80,100.79 L189.00,97.84 L189.20,102.81 L189.40,97.20 L189.60,100.14 L189.80,100.38 L190.00,98.36 L190.20,102.13 L190.40,99.25 L190.60,101.31 L190.80,104.50 L191.00,98.74 L191.20,99.35 L191.40,97.09 L191.60,97.79 L191.80,102.86 L192.00,98.90 L192.10,100.50 L192.60,102.62 L193.10,103.60 L193.80,99.28 L194.50,94.20 L195.07,91.34 L195.63,87.91 L196.20,84.00 L196.85,80.99 L197.50,79.00 L198.10,78.09 L198.70,77.80 L199.20,77.64 L199.70,79.05 L200.20,79.30 L200.75,76.98 L201.30,74.20 L201.80,76.19 L202.30,78.48 L202.80,80.80 L203.30,87.57 L203.80,93.90 L204.50,89.50 L205.00,91.75 L205.50,93.08 L206.00,95.40 L206.50,97.35 L207.00,98.13 L207.50,99.80 L208.20,98.88 L208.90,97.60 L209.40,100.09 L209.90,102.93 L210.40,106.40 L210.90,105.24 L211.40,103.26 L211.90,101.20 L212.60,97.85 L213.30,93.90 L213.80,91.32 L214.30,89.39 L214.80,88.10 L215.50,84.68 L216.20,82.20 L216.77,80.81 L217.33,79.99 L217.90,79.30 L218.40,78.17 L218.90,76.72 L219.40,76.40 L220.10,75.04 L220.80,74.20 L221.60,83.70 L222.30,95.40 L223.00,91.00 L223.55,91.37 L224.10,90.90 L224.65,92.00 L225.20,91.70 L225.75,92.35 L226.30,93.10 L226.85,93.01 L227.40,93.90 L227.95,94.18 L228.50,94.91 L229.05,94.81 L229.60,95.40 L230.10,96.17 L230.60,98.80 L231.10,99.80 L231.80,101.99 L232.50,103.40 L233.10,104.20 L233.70,105.60 L234.30,103.26 L234.90,102.70 L235.50,100.50 L236.05,99.93 L236.60,98.42 L237.15,97.97 L237.70,97.60 L238.25,96.68 L238.80,97.26 L239.35,96.07 L239.90,96.10 L240.60,94.13 L241.30,91.00 L241.80,89.88 L242.30,87.49 L242.80,86.60 L243.50,87.62 L244.20,88.10 L244.70,86.72 L245.20,85.98 L245.70,84.40 L246.20,83.66 L246.70,81.69 L247.20,80.80 L247.77,79.23 L248.33,79.42 L248.90,77.80 L249.40,76.49 L249.90,76.00 L250.40,74.20 L250.95,81.42 L251.50,88.10 L252.30,97.60 L253.00,98.28 L253.70,98.30 L254.20,98.53 L254.70,98.01 L255.20,97.60 L255.70,94.23 L256.20,91.00 L256.80,85.28 L257.40,80.80 L257.90,80.08 L258.40,78.70 L258.90,77.80 L259.60,76.77 L260.30,75.70 L260.80,77.00 L261.30,76.58 L261.80,77.80 L262.50,77.12 L263.20,75.70 L263.70,75.53 L264.20,76.92 L264.70,77.10 L265.27,77.29 L265.83,76.30 L266.40,76.40 L267.10,77.91 L267.80,79.30 L268.30,78.99 L268.80,77.56 L269.30,76.40 L269.80,75.96 L270.30,75.05 L270.80,74.90 L271.50,74.68 L272.20,75.70 L272.70,75.00 L273.20,74.58 L273.70,74.20 L274.20,73.55 L274.70,73.47 L275.20,73.50 L275.90,83.00 L276.60,84.40 L277.10,83.66 L277.60,84.22 L278.10,83.70 L278.65,84.11 L279.20,83.68 L279.75,83.86 L280.30,84.40 L281.00,85.17 L281.70,85.90 L282.20,86.32 L282.70,87.51 L283.20,87.40 L283.70,86.19 L284.20,85.12 L284.70,84.40 L285.20,86.44 L285.70,87.40 L286.30,88.35 L286.90,90.30 L287.60,91.84 L288.30,93.20 L288.80,94.90 L289.30,97.51 L289.80,99.00 L290.50,95.40 L291.20,86.60 L291.70,84.47 L292.20,82.56 L292.70,80.00 L293.30,76.99 L293.90,74.90 L294.40,76.23 L294.90,77.10 L295.40,77.97 L295.90,78.51 L296.40,79.30 L297.05,80.42 L297.70,80.80 L298.20,80.26 L298.70,78.26 L299.20,77.51 L299.70,76.80 L300.24,76.74 L300.78,76.67 L301.32,76.60 L301.86,77.05 L302.40,77.50 L302.94,76.66 L303.48,76.94 L304.02,76.17 L304.56,75.28 L305.10,75.40 L305.64,74.81 L306.18,74.68 L306.72,74.19 L307.26,73.58 L307.80,73.70 L308.50,74.10 L309.20,78.55 L309.90,84.20 L310.55,84.22 L311.20,85.60 L311.74,86.29 L312.28,85.95 L312.82,85.02 L313.36,85.90 L313.90,85.60 L314.60,87.27 L315.30,87.60 L315.95,89.69 L316.60,91.60 L317.30,93.80 L318.00,97.10 L318.55,98.73 L319.10,100.40 L320.00,95.00 L320.70,91.56 L321.40,88.30 L322.05,84.12 L322.70,80.80 L323.40,79.51 L324.10,78.10 L324.60,77.26 L325.10,78.39 L325.60,77.85 L326.10,77.50 L326.60,77.15 L327.10,77.06 L327.60,76.14 L328.10,75.40 L328.73,74.62 L329.37,74.18 L330.00,74.10" fill="none" stroke="#0000ff" stroke-width="2.0" stroke-linejoin="round"/>
<clipPath id="c2"><rect x="39.1" y="170.3" width="291.8" height="37.89999999999999"/></clipPath>
<path clip-path="url(#c2)" d="M40.50,200.90 L40.75,196.17 L41.00,190.52 L41.25,196.14 L41.50,190.33 L41.75,196.01 L42.00,191.72 L42.25,196.03 L42.50,192.17 L42.75,192.24 L43.00,199.58 L43.25,194.61 L43.50,195.36 L43.75,197.51 L44.00,202.00 L44.25,192.03 L44.50,190.15 L44.75,190.90 L45.00,198.31 L45.25,193.32 L45.50,202.27 L45.75,196.93 L46.00,193.12 L46.25,195.16 L46.50,192.99 L46.75,193.10 L47.00,196.47 L47.25,190.58 L47.50,193.01 L47.75,192.14 L48.00,189.79 L48.25,193.11 L48.50,197.09 L48.75,197.69 L49.00,194.58 L49.25,189.67 L49.50,194.57 L49.75,194.28 L50.00,193.53 L50.25,191.99 L50.50,198.63 L50.75,195.39 L51.00,190.26 L51.25,192.78 L51.50,193.17 L51.75,194.45 L52.00,190.57 L52.25,208.00 L52.50,190.53 L52.75,191.70 L53.00,194.00 L53.25,193.61 L53.50,191.37 L53.75,190.39 L54.00,198.91 L54.25,190.02 L54.50,196.58 L54.75,195.34 L55.00,190.36 L55.25,195.43 L55.50,196.37 L55.75,190.91 L56.00,194.24 L56.25,190.71 L56.50,190.08 L56.75,200.09 L57.00,191.47 L57.25,195.73 L57.50,197.32 L57.75,197.21 L58.00,197.62 L58.25,191.10 L58.50,192.58 L58.75,195.51 L59.00,190.56 L59.25,195.91 L59.50,200.20 L59.75,190.15 L60.00,196.28 L60.25,197.29 L60.50,201.50 L60.75,192.95 L61.00,194.09 L61.25,189.17 L61.50,195.96 L61.75,193.82 L62.00,194.98 L62.25,190.35 L62.50,193.78 L62.75,196.14 L63.00,189.47 L63.25,190.72 L63.50,196.89 L63.75,189.94 L64.00,196.58 L64.25,193.09 L64.50,191.20 L64.75,193.22 L65.00,199.19 L65.25,191.80 L65.50,198.77 L65.75,193.01 L66.00,194.81 L66.25,200.26 L66.50,199.70 L66.75,198.67 L67.00,195.48 L67.25,192.01 L67.50,191.86 L67.75,194.12 L68.00,200.03 L68.25,196.20 L68.50,196.23 L68.75,194.99 L69.00,191.86 L69.25,197.13 L69.50,195.44 L69.75,196.20 L70.00,202.00 L70.25,192.56 L70.50,199.29 L70.75,192.36 L71.00,193.79 L71.25,191.68 L71.50,192.62 L71.75,189.57 L72.00,193.50 L72.25,194.50 L72.50,199.05 L72.75,192.12 L73.00,194.21 L73.25,192.30 L73.50,198.49 L73.75,194.33 L74.00,192.33 L74.25,192.93 L74.50,189.74 L74.75,197.08 L75.00,198.39 L75.25,191.55 L75.50,191.15 L75.75,191.05 L76.00,197.03 L76.25,191.16 L76.50,198.09 L76.75,190.27 L77.00,197.49 L77.25,190.95 L77.50,194.61 L77.75,195.60 L78.00,191.81 L78.25,196.66 L78.50,193.59 L78.75,200.09 L79.00,205.00 L79.25,192.92 L79.50,195.21 L79.75,204.43 L80.00,194.78 L80.25,190.21 L80.50,196.04 L80.75,190.40 L81.00,190.77 L81.25,190.25 L81.50,193.13 L81.75,194.54 L82.00,195.13 L82.25,192.24 L82.50,191.59 L82.75,196.10 L83.00,192.09 L83.25,198.11 L83.50,191.88 L83.75,197.93 L84.00,189.51 L84.25,195.45 L84.50,192.81 L84.75,191.60 L85.00,199.10 L85.25,190.05 L85.50,194.67 L85.75,198.27 L86.00,190.83 L86.25,196.32 L86.50,202.05 L86.75,191.58 L87.00,193.93 L87.25,192.44 L87.50,193.47 L87.75,197.50 L88.00,200.61 L88.25,192.83 L88.50,189.74 L88.75,192.90 L89.00,197.66 L89.25,191.31 L89.50,191.70 L89.75,191.49 L90.00,202.50 L90.25,192.21 L90.50,191.58 L90.75,191.15 L91.00,197.25 L91.25,196.31 L91.50,192.39 L91.75,194.15 L92.00,191.41 L92.25,195.15 L92.50,194.99 L92.75,191.78 L93.00,193.06 L93.25,197.46 L93.50,197.45 L93.75,198.93 L94.00,204.00 L94.25,190.86 L94.50,190.30 L94.75,195.69 L95.00,192.44 L95.25,195.98 L95.50,199.27 L95.75,196.71 L96.00,189.48 L96.25,191.35 L96.50,207.50 L96.75,192.22 L97.00,190.38 L97.25,190.57 L97.50,191.03 L97.75,190.78 L98.00,194.12 L98.25,192.76 L98.50,197.95 L98.75,191.51 L99.00,197.52 L99.25,192.02 L99.50,198.49 L99.75,194.02 L100.00,203.00 L100.25,189.63 L100.50,195.07 L100.75,194.12 L101.00,197.72 L101.25,195.44 L101.50,192.06 L101.75,197.54 L102.00,192.61 L102.25,190.58 L102.50,189.43 L102.75,197.31 L103.00,194.69 L103.25,191.56 L103.50,190.53 L103.75,196.48 L104.00,190.05 L104.25,192.57 L104.50,194.68 L104.75,201.91 L105.00,197.64 L105.25,195.28 L105.50,191.97 L105.75,196.77 L106.00,196.49 L106.25,194.72 L106.50,196.12 L106.75,195.62 L107.00,191.71 L107.25,192.05 L107.50,193.96 L107.75,194.36 L108.00,191.46 L108.25,198.03 L108.50,194.20 L108.75,196.83 L109.00,190.89 L109.25,193.51 L109.50,196.83 L109.75,199.41 L110.00,196.84 L110.25,190.55 L110.50,191.73 L110.75,192.68 L111.00,194.15 L111.25,190.41 L111.50,198.29 L111.75,193.57 L112.00,196.57 L112.25,190.98 L112.50,192.83 L112.75,191.68 L113.00,192.52 L113.25,189.68 L113.50,198.57 L113.75,195.64 L114.00,192.14 L114.25,196.57 L114.50,194.79 L114.75,190.90 L115.00,202.50 L115.25,199.28 L115.50,192.33 L115.75,191.70 L116.00,194.95 L116.25,192.32 L116.50,194.46 L116.75,191.00 L117.00,195.89 L117.25,195.57 L117.50,190.19 L117.75,193.16 L118.00,194.35 L118.25,201.10 L118.50,194.22 L118.75,197.79 L119.00,194.45 L119.25,194.17 L119.50,194.85 L119.75,196.31 L120.00,201.82 L120.25,195.14 L120.50,197.04 L120.75,202.79 L121.00,202.01 L121.25,201.31 L121.50,196.05 L121.75,190.00 L122.00,193.16 L122.25,198.25 L122.50,197.00 L122.75,192.12 L123.00,189.14 L123.25,191.46 L123.50,191.74 L123.75,196.49 L124.00,201.00 L124.25,189.37 L124.50,196.47 L124.75,196.37 L125.00,199.30 L125.25,192.17 L125.50,193.18 L125.75,192.11 L126.00,190.67 L126.25,198.50 L126.50,193.59 L126.75,193.89 L127.00,191.32 L127.25,191.49 L127.50,196.06 L127.75,192.97 L128.00,192.91 L128.25,189.44 L128.50,202.42 L128.75,189.62 L129.00,190.66 L129.25,194.24 L129.50,193.74 L129.75,195.46 L130.00,191.21 L130.25,186.50 L130.50,191.38 L130.75,190.42 L131.00,198.54 L131.25,195.87 L131.50,198.24 L131.75,201.76 L132.00,190.20 L132.25,192.54 L132.50,195.18 L132.75,194.92 L133.00,198.06 L133.25,197.29 L133.50,196.78 L133.75,199.50 L134.00,195.07 L134.25,194.09 L134.50,193.23 L134.75,192.80 L135.00,189.91 L135.25,189.90 L135.50,197.53 L135.75,193.35 L136.00,203.00 L136.25,193.09 L136.50,189.56 L136.75,196.46 L137.00,198.11 L137.25,191.38 L137.50,196.69 L137.75,200.27 L138.00,198.14 L138.25,198.12 L138.50,190.03 L138.75,193.88 L139.00,196.77 L139.25,197.34 L139.50,190.66 L139.75,190.98 L140.00,197.65 L140.25,201.31 L140.50,191.07 L140.75,191.39 L141.00,193.48 L141.25,196.41 L141.50,191.62 L141.75,193.11 L142.00,198.20 L142.25,191.23 L142.50,198.08 L142.75,194.39 L143.00,190.77 L143.25,191.17 L143.50,194.33 L143.75,191.43 L144.00,191.47 L144.25,191.80 L144.50,194.20 L144.75,189.76 L145.00,194.09 L145.25,194.85 L145.50,191.76 L145.75,191.09 L146.00,189.99 L146.25,194.44 L146.50,200.75 L146.75,191.85 L147.00,196.90 L147.25,190.26 L147.50,205.80 L147.75,190.03 L148.00,196.06 L148.25,192.80 L148.50,193.92 L148.75,189.70 L149.00,193.47 L149.25,190.43 L149.50,196.53 L149.75,191.07 L150.00,191.00 L150.25,191.78 L150.50,198.93 L150.75,197.22 L151.00,194.49 L151.25,198.36 L151.50,195.84 L151.75,195.74 L152.00,197.23 L152.25,196.57 L152.50,191.43 L152.75,196.09 L153.00,191.10 L153.25,198.40 L153.50,196.57 L153.75,197.02 L154.00,193.58 L154.25,196.70 L154.50,192.17 L154.75,194.24 L155.00,203.00 L155.25,196.51 L155.50,196.97 L155.75,191.01 L156.00,191.37 L156.25,197.71 L156.50,195.92 L156.75,196.70 L157.00,195.84 L157.25,197.32 L157.50,190.41 L157.75,197.68 L158.00,195.50 L158.25,200.97 L158.50,190.23 L158.75,197.92 L159.00,196.03 L159.25,193.54 L159.50,193.77 L159.75,196.28 L160.00,191.30 L160.25,196.97 L160.50,196.50 L160.75,191.30 L161.00,190.40 L161.25,191.58 L161.50,198.74 L161.75,191.59 L162.00,195.09 L162.25,192.85 L162.50,198.09 L162.75,198.28 L163.00,196.63 L163.25,198.63 L163.50,197.60 L163.75,196.19 L164.00,191.52 L164.25,193.53 L164.50,193.11 L164.75,197.49 L165.00,200.48 L165.25,192.43 L165.50,191.56 L165.75,194.59 L165.80,193.00 L166.40,183.10 L166.80,195.00 L167.10,207.60 L167.50,196.00 L168.20,190.00 L168.80,196.50 L169.50,190.00 L170.00,194.00 L170.60,181.90 L171.05,185.78 L171.50,190.70 L172.20,180.80 L172.60,182.80 L173.00,185.00 L173.40,181.70 L173.80,177.80 L174.30,183.00 L174.90,189.50 L175.50,186.00 L176.10,181.90 L176.50,184.26 L176.90,186.00 L177.35,191.04 L177.80,195.30 L178.40,190.00 L179.00,189.50 L179.60,194.00 L180.20,191.00 L180.30,192.71 L180.55,195.86 L180.80,191.77 L181.05,189.62 L181.30,194.46 L181.55,192.86 L181.80,196.17 L182.05,197.64 L182.30,191.17 L182.55,196.77 L182.80,194.80 L183.05,191.04 L183.30,196.42 L183.55,193.14 L183.80,193.41 L184.05,194.60 L184.30,196.57 L184.55,197.01 L184.80,199.51 L185.05,197.54 L185.30,193.23 L185.55,198.79 L185.80,194.73 L186.05,196.21 L186.30,193.03 L186.55,193.06 L186.80,191.91 L187.05,195.01 L187.30,200.70 L187.55,194.26 L187.80,193.09 L188.05,195.54 L188.30,193.70 L188.55,194.89 L188.80,193.76 L189.05,199.34 L189.30,198.48 L189.55,197.78 L189.80,192.89 L190.05,195.18 L190.30,196.43 L190.55,193.56 L190.80,197.52 L191.05,192.86 L191.30,192.27 L191.55,190.28 L191.80,193.78 L192.05,196.31 L192.30,190.56 L192.55,192.52 L192.80,192.70 L193.05,192.83 L193.30,188.20 L193.55,192.24 L193.80,189.36 L194.05,186.42 L194.30,187.99 L194.55,184.78 L194.80,183.89 L195.05,187.07 L195.30,184.43 L195.55,186.74 L195.80,182.59 L196.05,182.80 L196.30,185.59 L196.55,183.37 L196.80,183.05 L197.05,184.91 L197.30,184.90 L197.55,183.85 L197.80,182.85 L198.05,185.39 L198.30,184.96 L198.55,185.33 L198.80,184.43 L199.05,184.04 L199.30,181.00 L199.55,184.80 L199.80,181.01 L200.05,179.88 L200.30,185.26 L200.55,180.88 L200.80,178.47 L201.05,186.55 L201.30,178.15 L201.55,177.09 L201.80,180.90 L202.05,176.22 L202.30,177.16 L202.55,181.84 L202.80,179.61 L203.05,178.98 L203.30,179.21 L203.55,184.12 L203.80,178.48 L204.05,178.80 L204.30,182.24 L204.55,184.72 L204.80,185.38 L205.05,185.83 L205.30,184.72 L205.55,191.37 L205.80,192.15 L206.05,193.41 L206.30,190.61 L206.55,191.46 L206.80,194.48 L207.05,192.62 L207.30,193.79 L207.55,192.29 L207.80,195.04 L208.05,192.66 L208.30,192.82 L208.55,195.90 L208.80,199.38 L209.05,199.35 L209.30,197.71 L209.55,192.50 L209.80,192.11 L210.05,197.93 L210.30,194.19 L210.55,193.37 L210.80,200.39 L211.05,192.38 L211.30,195.07 L211.55,198.82 L211.80,192.13 L212.05,191.90 L212.30,193.61 L212.55,195.93 L212.80,192.09 L213.05,189.14 L213.30,191.03 L213.55,188.29 L213.80,186.75 L214.05,189.91 L214.30,190.89 L214.55,189.19 L214.80,189.18 L215.05,190.09 L215.30,187.18 L215.55,183.82 L215.80,187.38 L216.05,183.32 L216.30,185.65 L216.55,184.41 L216.80,187.10 L217.05,185.68 L217.30,183.49 L217.55,184.03 L217.80,184.92 L218.05,182.75 L218.30,184.43 L218.55,184.77 L218.80,180.90 L219.05,180.41 L219.30,182.05 L219.55,183.61 L219.80,182.91 L220.05,181.45 L220.30,184.00 L220.55,179.26 L220.80,186.48 L221.05,183.27 L221.30,187.26 L221.55,189.66 L221.80,190.32 L222.05,184.61 L222.30,187.28 L222.55,188.38 L222.80,193.74 L223.05,194.62 L223.30,198.27 L223.55,191.03 L223.80,196.36 L224.05,198.09 L224.30,195.27 L224.55,198.09 L224.80,203.13 L225.05,196.06 L225.30,195.67 L225.55,196.67 L225.80,191.93 L226.05,196.45 L226.30,202.82 L226.55,191.92 L226.80,199.22 L227.05,193.07 L227.30,193.68 L227.55,192.65 L227.80,196.53 L228.05,202.00 L228.30,199.15 L228.55,191.93 L228.80,193.71 L229.05,192.06 L229.30,200.02 L229.55,190.37 L229.80,191.26 L230.05,195.96 L230.30,194.37 L230.55,195.78 L230.80,198.75 L231.05,197.39 L231.30,197.67 L231.55,189.16 L231.80,197.53 L232.05,202.00 L232.30,198.24 L232.55,195.60 L232.80,191.12 L233.05,191.20 L233.30,192.32 L233.55,194.46 L233.80,195.50 L234.05,197.89 L234.30,189.79 L234.55,197.84 L234.80,195.98 L235.05,189.80 L235.30,194.32 L235.55,194.30 L235.80,186.89 L236.05,188.87 L236.30,189.22 L236.55,195.10 L236.80,190.48 L237.05,190.37 L237.30,189.01 L237.55,191.71 L237.80,185.86 L238.05,187.72 L238.30,185.13 L238.55,191.60 L238.60,190.00 L239.00,180.00 L239.35,170.50 L239.70,186.00 L240.30,190.00 L241.00,186.70 L241.50,189.66 L242.00,191.00 L242.50,188.70 L243.00,188.00 L243.35,188.95 L243.70,189.94 L244.05,193.79 L244.40,194.90 L244.80,188.90 L245.20,184.00 L245.60,179.70 L246.05,184.34 L246.50,186.00 L246.95,192.36 L247.40,197.80 L247.77,191.46 L248.13,185.03 L248.50,177.90 L248.90,182.71 L249.30,187.52 L249.70,191.40 L250.10,185.31 L250.50,179.07 L250.90,175.00 L251.35,177.61 L251.80,183.00 L252.20,186.25 L252.60,192.60 L253.00,188.62 L253.40,184.39 L253.80,182.00 L254.20,183.09 L254.60,186.65 L255.00,189.00 L255.37,186.64 L255.73,181.87 L256.10,177.40 L256.50,180.94 L256.90,186.80 L257.30,190.20 L257.70,185.10 L258.10,180.79 L258.50,178.00 L258.93,179.85 L259.35,182.66 L259.77,186.03 L260.20,187.90 L260.60,184.59 L261.00,182.36 L261.40,178.50 L261.82,179.25 L262.25,183.98 L262.68,184.15 L263.10,186.70 L263.46,185.66 L263.82,181.00 L264.18,181.45 L264.54,177.42 L264.90,176.20 L265.30,179.27 L265.70,181.04 L266.10,182.00 L266.53,181.97 L266.95,180.14 L267.38,178.71 L267.80,179.70 L268.20,180.14 L268.60,183.86 L269.00,184.00 L269.40,183.81 L269.80,186.31 L270.20,186.70 L270.62,186.10 L271.05,185.47 L271.47,183.05 L271.90,183.20 L272.26,183.22 L272.62,184.23 L272.98,188.22 L273.34,187.47 L273.70,189.00 L274.12,185.69 L274.55,181.62 L274.97,176.71 L275.40,173.80 L275.80,175.81 L276.20,179.05 L276.60,184.00 L277.20,184.00 L277.63,184.29 L278.07,181.15 L278.50,181.50 L278.90,185.02 L279.30,185.13 L279.70,187.60 L280.10,187.91 L280.50,185.64 L280.90,186.40 L281.30,189.35 L281.70,189.67 L282.10,192.50 L282.53,193.31 L282.97,195.04 L283.40,196.20 L283.80,192.09 L284.20,189.66 L284.60,187.60 L285.00,190.61 L285.40,191.05 L285.80,193.80 L286.20,192.39 L286.60,192.58 L287.00,190.70 L287.43,191.85 L287.87,193.79 L288.30,196.80 L288.70,193.47 L289.10,191.56 L289.50,189.50 L289.90,190.50 L290.30,192.82 L290.70,193.80 L291.13,190.21 L291.57,187.98 L292.00,183.30 L292.40,182.10 L292.80,184.29 L293.20,184.00 L293.60,183.84 L294.00,180.68 L294.40,180.30 L294.80,179.39 L295.20,181.30 L295.60,182.10 L296.00,180.27 L296.40,180.77 L296.80,180.30 L297.20,182.61 L297.60,182.27 L298.00,185.20 L298.43,183.34 L298.87,183.87 L299.30,183.30 L299.70,183.29 L300.10,184.51 L300.50,186.40 L300.90,184.58 L301.30,181.91 L301.70,181.50 L302.13,180.95 L302.57,182.72 L303.00,184.00 L303.40,182.67 L303.80,182.93 L304.20,180.30 L304.60,182.31 L305.00,182.60 L305.40,185.80 L305.80,183.68 L306.20,184.11 L306.60,182.10 L306.97,182.53 L307.33,183.75 L307.70,182.80 L308.10,182.75 L308.50,180.88 L308.90,178.20 L309.30,179.29 L309.70,184.29 L310.10,185.20 L310.47,185.65 L310.83,185.10 L311.20,186.30 L311.60,186.61 L312.00,190.20 L312.40,190.40 L312.80,190.93 L313.20,193.30 L313.70,197.82 L314.20,205.00 L314.65,197.80 L315.10,192.10 L315.50,194.66 L315.90,194.50 L316.30,193.21 L316.70,192.91 L317.10,191.00 L317.47,190.40 L317.83,192.38 L318.20,193.30 L318.60,195.45 L319.00,197.82 L319.40,201.50 L319.80,198.32 L320.20,193.66 L320.60,190.40 L320.97,187.45 L321.33,188.48 L321.70,185.20 L322.10,183.97 L322.50,181.84 L322.90,181.70 L323.30,179.73 L323.70,181.39 L324.10,180.50 L324.47,181.11 L324.83,180.11 L325.20,182.20 L325.60,182.50 L326.00,183.77 L326.40,183.40 L327.00,193.30 L327.37,190.72 L327.73,187.05 L328.10,185.20 L328.57,185.96 L329.03,187.07 L329.50,187.50 L330.00,186.00" fill="none" stroke="#ff00ff" stroke-width="1.4" stroke-linejoin="round"/>
<clipPath id="c3"><rect x="39.1" y="242.0" width="291.8" height="36.999999999999986"/></clipPath>
<path clip-path="url(#c3)" d="M40.50,265.99 L40.80,269.08 L41.10,268.59 L41.40,267.53 L41.70,264.73 L42.00,268.27 L42.30,264.37 L42.60,264.94 L42.90,264.48 L43.20,267.73 L43.50,267.76 L43.80,265.65 L44.10,267.24 L44.40,266.61 L44.70,268.08 L45.00,268.64 L45.30,266.81 L45.60,267.30 L45.90,265.62 L46.20,267.57 L46.50,265.84 L46.80,265.65 L47.10,265.14 L47.40,266.09 L47.70,266.21 L48.00,266.70 L48.30,266.16 L48.60,264.57 L48.90,267.01 L49.20,265.54 L49.50,268.17 L49.80,264.35 L50.10,271.50 L50.40,266.20 L50.70,268.44 L51.00,269.31 L51.30,267.34 L51.60,264.89 L51.90,266.71 L52.20,264.40 L52.50,267.48 L52.80,267.59 L53.10,267.88 L53.40,268.15 L53.70,265.45 L54.00,266.33 L54.30,267.91 L54.60,269.45 L54.90,264.27 L55.20,268.17 L55.50,266.24 L55.80,265.00 L56.10,266.29 L56.40,265.84 L56.70,267.84 L57.00,267.12 L57.30,266.03 L57.60,267.15 L57.90,267.81 L58.20,267.10 L58.50,266.71 L58.80,267.91 L59.10,265.40 L59.40,269.45 L59.70,266.55 L60.00,266.72 L60.30,266.31 L60.60,264.83 L60.90,264.39 L61.20,265.17 L61.50,265.03 L61.80,268.36 L62.10,266.44 L62.40,267.12 L62.70,265.55 L63.00,265.67 L63.30,265.15 L63.60,269.02 L63.90,268.21 L64.20,267.77 L64.50,267.20 L64.80,266.89 L65.10,266.92 L65.40,268.13 L65.70,268.17 L66.00,264.15 L66.30,267.52 L66.60,264.57 L66.90,264.04 L67.20,265.72 L67.50,265.07 L67.80,268.93 L68.10,263.91 L68.40,269.59 L68.70,265.04 L69.00,266.19 L69.30,266.36 L69.60,264.50 L69.90,271.50 L70.20,265.79 L70.50,266.57 L70.80,268.37 L71.10,266.17 L71.40,267.08 L71.70,265.47 L72.00,266.22 L72.30,267.04 L72.60,266.80 L72.90,266.38 L73.20,266.01 L73.50,268.35 L73.80,266.79 L74.10,265.95 L74.40,265.78 L74.70,266.01 L75.00,265.91 L75.30,265.14 L75.60,266.59 L75.90,265.95 L76.20,266.56 L76.50,266.51 L76.80,267.70 L77.10,267.07 L77.40,266.65 L77.70,264.90 L78.00,266.73 L78.30,268.46 L78.60,269.12 L78.90,265.56 L79.20,266.04 L79.50,265.80 L79.80,265.37 L80.10,267.01 L80.40,267.82 L80.70,264.59 L81.00,266.83 L81.30,266.99 L81.60,267.70 L81.90,264.14 L82.20,266.33 L82.50,266.49 L82.80,265.28 L83.10,267.33 L83.40,267.18 L83.70,267.92 L84.00,268.48 L84.30,265.34 L84.60,266.46 L84.90,272.90 L85.20,266.85 L85.50,266.99 L85.80,264.71 L86.10,268.38 L86.40,265.20 L86.70,265.09 L87.00,266.76 L87.30,266.89 L87.60,264.29 L87.90,264.27 L88.20,267.87 L88.50,264.61 L88.80,267.32 L89.10,264.98 L89.40,267.39 L89.70,264.71 L90.00,268.72 L90.30,267.91 L90.60,268.49 L90.90,271.50 L91.20,268.14 L91.50,264.52 L91.80,266.90 L92.10,267.18 L92.40,265.09 L92.70,268.16 L93.00,266.69 L93.30,265.06 L93.60,266.96 L93.90,265.41 L94.20,268.88 L94.50,265.34 L94.80,267.87 L95.10,269.42 L95.40,267.24 L95.70,266.95 L96.00,265.83 L96.30,265.80 L96.60,264.52 L96.90,267.70 L97.20,268.36 L97.50,266.66 L97.80,269.01 L98.10,268.99 L98.40,268.50 L98.70,266.36 L99.00,267.37 L99.30,265.59 L99.60,267.16 L99.90,267.27 L100.20,269.01 L100.50,266.89 L100.80,268.00 L101.10,265.65 L101.40,267.98 L101.70,265.95 L102.00,268.44 L102.30,266.87 L102.60,265.26 L102.90,264.72 L103.20,266.00 L103.50,264.29 L103.80,265.94 L104.10,265.45 L104.40,267.21 L104.70,267.40 L105.00,268.25 L105.30,267.73 L105.60,266.67 L105.90,267.97 L106.20,265.51 L106.50,267.63 L106.80,266.17 L107.10,268.26 L107.40,265.09 L107.70,267.52 L108.00,265.89 L108.30,266.30 L108.60,266.53 L108.90,266.92 L109.20,265.19 L109.50,268.41 L109.80,265.06 L110.10,271.50 L110.40,266.75 L110.70,267.79 L111.00,266.69 L111.30,266.82 L111.60,265.19 L111.90,266.12 L112.20,266.53 L112.50,265.75 L112.80,269.47 L113.10,267.51 L113.40,266.65 L113.70,267.35 L114.00,267.08 L114.30,266.75 L114.60,264.78 L114.90,268.91 L115.20,267.82 L115.50,267.90 L115.80,265.56 L116.10,267.02 L116.40,265.83 L116.70,265.28 L117.00,266.20 L117.30,263.33 L117.60,266.44 L117.90,266.20 L118.20,265.50 L118.50,265.51 L118.80,266.57 L119.10,267.21 L119.40,267.71 L119.70,266.15 L120.00,271.00 L120.30,266.18 L120.60,264.65 L120.90,265.74 L121.20,265.58 L121.50,266.48 L121.80,267.24 L122.10,266.05 L122.40,263.55 L122.70,265.28 L123.00,263.10 L123.30,262.21 L123.60,262.45 L123.90,262.60 L124.20,263.09 L124.50,264.56 L124.80,264.31 L125.10,262.39 L125.40,260.94 L125.70,262.13 L126.00,263.67 L126.30,262.42 L126.60,263.52 L126.90,262.52 L127.20,265.35 L127.50,264.13 L127.80,265.13 L128.10,266.67 L128.40,264.75 L128.70,264.84 L129.00,266.32 L129.30,265.56 L129.60,265.90 L129.90,266.34 L130.20,265.47 L130.50,266.67 L130.80,264.50 L131.10,265.57 L131.40,265.17 L131.70,265.16 L132.00,265.33 L132.30,266.30 L132.60,266.89 L132.90,266.21 L133.20,265.40 L133.50,267.05 L133.80,265.38 L134.10,265.75 L134.40,267.49 L134.70,265.61 L135.00,266.58 L135.30,266.04 L135.60,265.04 L135.90,266.80 L136.20,265.30 L136.50,267.11 L136.80,268.74 L137.10,268.52 L137.40,267.43 L137.70,268.39 L138.00,267.45 L138.30,268.31 L138.60,267.71 L138.90,268.77 L139.20,268.03 L139.50,266.01 L139.80,267.50 L140.10,267.60 L140.40,266.59 L140.70,268.98 L141.00,269.11 L141.30,269.32 L141.60,267.39 L141.90,268.81 L142.20,270.05 L142.50,266.70 L142.80,267.08 L143.10,267.82 L143.40,268.85 L143.70,267.04 L144.00,269.24 L144.30,269.17 L144.60,268.21 L144.90,272.50 L145.20,270.25 L145.50,267.66 L145.80,267.32 L146.10,267.66 L146.40,269.81 L146.70,267.26 L147.00,268.92 L147.30,268.99 L147.60,268.75 L147.90,270.60 L148.20,269.72 L148.50,267.73 L148.80,268.86 L149.10,269.82 L149.40,270.36 L149.70,268.49 L150.00,268.53 L150.30,267.96 L150.60,269.30 L150.90,268.96 L151.20,268.54 L151.50,268.30 L151.80,269.29 L152.10,269.65 L152.40,269.35 L152.70,268.24 L153.00,267.16 L153.30,268.53 L153.60,268.94 L153.90,268.55 L154.20,268.02 L154.50,269.07 L154.80,268.31 L155.10,267.75 L155.40,270.40 L155.70,269.23 L156.00,268.99 L156.30,268.40 L156.60,268.39 L156.90,273.60 L157.20,266.89 L157.50,266.59 L157.80,267.07 L158.10,267.61 L158.40,265.92 L158.70,265.33 L159.00,265.82 L159.30,264.82 L159.60,268.10 L159.90,264.30 L160.20,266.25 L160.50,265.92 L160.80,266.06 L161.10,265.58 L161.40,263.70 L161.70,265.26 L162.00,266.03 L162.30,266.53 L162.60,266.25 L162.90,266.15 L163.20,267.52 L163.50,266.99 L163.80,266.96 L164.10,264.43 L164.40,267.98 L164.70,267.11 L165.00,274.40 L165.30,268.21 L165.60,266.09 L165.90,266.57 L166.20,264.44 L166.50,264.38 L166.80,264.61 L167.10,264.79 L167.40,265.48 L167.70,264.58 L168.00,264.82 L168.30,263.68 L168.60,263.68 L168.90,261.76 L169.20,259.85 L169.50,259.01 L169.80,259.35 L170.10,259.69 L170.40,257.76 L170.70,257.83 L171.00,256.48 L171.30,254.73 L171.60,253.60 L171.90,253.59 L172.20,252.62 L172.50,251.09 L172.80,250.76 L173.10,251.81 L173.40,253.87 L173.70,256.45 L174.00,256.48 L174.30,255.39 L174.60,261.51 L174.90,262.02 L175.20,261.94 L175.50,265.71 L175.80,265.30 L176.10,264.03 L176.40,264.19 L176.70,263.84 L177.00,263.40 L177.30,263.33 L177.60,263.05 L177.90,262.73 L178.20,263.45 L178.50,263.47 L178.80,262.39 L179.10,265.42 L179.40,266.57 L179.70,264.98 L180.00,264.22 L180.30,264.49 L180.60,265.32 L180.90,263.38 L181.20,264.70 L181.50,265.48 L181.80,265.99 L182.10,265.94 L182.40,265.10 L182.70,265.11 L183.00,266.63 L183.30,267.04 L183.60,265.39 L183.90,266.97 L184.20,267.79 L184.50,267.48 L184.80,268.70 L185.10,269.28 L185.40,267.86 L185.70,266.47 L186.00,267.37 L186.30,269.01 L186.60,268.34 L186.90,269.23 L187.20,267.38 L187.50,269.31 L187.80,269.03 L188.10,272.20 L188.40,268.56 L188.70,268.12 L189.00,267.79 L189.30,268.17 L189.60,268.15 L189.90,269.08 L190.20,267.89 L190.50,268.24 L190.80,267.69 L191.10,265.47 L191.40,266.09 L191.70,266.24 L192.00,267.32 L192.30,265.05 L192.60,263.03 L192.90,262.86 L193.20,259.67 L193.50,261.07 L193.80,258.84 L194.10,257.58 L194.40,256.13 L194.70,255.81 L195.00,254.45 L195.30,253.97 L195.60,252.10 L195.90,251.87 L196.20,252.14 L196.50,251.08 L196.80,251.36 L197.10,249.74 L197.40,250.82 L197.70,252.39 L198.00,253.12 L198.30,252.98 L198.60,253.83 L198.90,251.19 L199.20,253.71 L199.50,251.42 L199.80,252.31 L200.10,249.42 L200.40,249.08 L200.70,247.83 L201.00,250.08 L201.30,248.09 L201.60,248.24 L201.90,247.35 L202.20,247.82 L202.50,246.99 L202.80,248.40 L203.10,248.62 L203.40,250.44 L203.70,249.75 L204.00,251.68 L204.30,252.55 L204.60,252.46 L204.90,253.86 L205.20,255.57 L205.50,255.03 L205.80,257.27 L206.10,256.58 L206.40,258.22 L206.70,259.35 L207.00,259.39 L207.30,259.87 L207.60,260.33 L207.90,262.73 L208.20,261.57 L208.50,265.10 L208.80,266.07 L209.10,266.03 L209.40,264.64 L209.70,266.91 L210.00,275.10 L210.30,270.71 L210.60,266.27 L210.90,267.52 L211.20,268.51 L211.50,266.58 L211.80,268.10 L212.10,269.33 L212.40,268.13 L212.70,266.60 L213.00,267.56 L213.30,265.66 L213.60,268.90 L213.90,267.32 L214.20,267.56 L214.50,266.58 L214.80,265.30 L215.10,266.59 L215.40,263.48 L215.70,259.69 L216.00,258.54 L216.30,256.72 L216.60,257.09 L216.90,256.46 L217.20,253.22 L217.50,254.32 L217.80,251.69 L218.10,253.19 L218.40,250.36 L218.70,249.54 L219.00,247.63 L219.30,248.76 L219.60,247.34 L219.90,246.79 L220.20,246.80 L220.50,247.03 L220.80,247.38 L221.10,247.18 L221.40,246.93 L221.70,246.67 L222.00,251.20 L222.30,257.66 L222.60,262.78 L222.90,265.90 L223.20,268.82 L223.50,269.78 L223.80,270.39 L224.10,269.68 L224.40,271.22 L224.70,271.13 L225.00,270.55 L225.30,269.71 L225.60,270.42 L225.90,271.30 L226.20,271.48 L226.50,272.36 L226.80,271.21 L227.10,271.60 L227.40,272.00 L227.70,272.33 L228.00,272.03 L228.30,272.00 L228.60,272.39 L228.90,271.67 L229.20,272.85 L229.50,272.13 L229.80,273.09 L230.10,273.52 L230.40,272.62 L230.70,272.83 L231.00,273.44 L231.30,272.59 L231.60,273.65 L231.90,273.57 L232.20,272.74 L232.50,273.49 L232.80,273.80 L233.10,273.06 L233.40,271.90 L233.70,273.73 L234.00,272.88 L234.30,272.55 L234.60,272.40 L234.90,272.74 L235.20,272.13 L235.50,272.25 L235.80,272.57 L236.10,272.78 L236.40,273.00 L236.70,271.48 L237.00,272.79 L237.30,271.03 L237.60,270.44 L237.90,269.35 L238.20,266.64 L238.50,265.93 L238.80,267.20 L239.10,265.83 L239.40,265.41 L239.70,264.27 L240.00,265.66 L240.30,266.19 L240.60,266.09 L240.90,265.65 L241.20,264.33 L241.50,264.56 L241.80,265.29 L242.10,264.40 L242.40,264.50 L242.70,266.53 L243.00,266.12 L243.30,264.39 L243.60,278.70 L243.90,264.05 L244.20,261.12 L244.50,262.95 L244.80,261.90 L245.10,259.59 L245.40,259.35 L245.70,257.11 L246.00,257.23 L246.30,256.85 L246.60,254.66 L246.90,253.38 L247.20,253.74 L247.50,252.54 L247.80,251.28 L248.10,252.20 L248.40,251.08 L248.70,249.28 L249.00,249.82 L249.30,248.26 L249.60,247.72 L249.90,246.75 L250.20,245.97 L250.50,245.55 L250.80,244.61 L251.10,244.02 L251.40,246.32 L251.70,250.04 L252.00,252.81 L252.30,258.68 L252.60,262.80 L252.90,265.21 L253.20,266.81 L253.50,271.40 L253.80,269.50 L254.10,266.93 L254.40,265.50 L254.70,260.58 L255.00,259.59 L255.30,256.24 L255.60,256.22 L255.90,253.57 L256.20,253.58 L256.50,253.19 L256.80,252.22 L257.10,251.39 L257.40,251.58 L257.70,250.69 L258.00,250.96 L258.30,250.45 L258.60,250.22 L258.90,249.44 L259.20,249.59 L259.50,248.26 L259.80,249.69 L260.10,248.06 L260.40,248.28 L260.70,250.13 L261.00,246.98 L261.30,247.00 L261.60,247.45 L261.90,247.33 L262.20,247.85 L262.50,249.17 L262.80,246.71 L263.10,246.66 L263.40,247.57 L263.70,249.54 L264.00,246.35 L264.30,248.25 L264.60,248.56 L264.90,246.51 L265.20,248.82 L265.50,247.52 L265.80,249.11 L266.10,246.89 L266.40,248.05 L266.70,247.29 L267.00,246.92 L267.30,246.24 L267.60,247.22 L267.90,244.98 L268.20,247.54 L268.50,244.89 L268.80,246.27 L269.10,244.36 L269.40,244.90 L269.70,244.51 L270.00,244.94 L270.30,243.58 L270.60,243.50 L270.90,243.82 L271.20,244.16 L271.50,245.19 L271.80,245.40 L272.10,245.96 L272.40,246.00 L272.70,246.47 L273.00,246.89 L273.30,246.34 L273.60,247.07 L273.90,246.89 L274.20,247.93 L274.50,247.27 L274.80,247.89 L275.10,247.56 L275.40,248.01 L275.70,247.73 L276.00,246.26 L276.30,248.29 L276.60,249.00 L276.90,255.71 L277.20,260.35 L277.50,261.69 L277.80,260.11 L278.10,259.27 L278.40,258.56 L278.70,260.09 L279.00,260.43 L279.30,260.04 L279.60,259.10 L279.90,259.91 L280.20,259.65 L280.50,259.85 L280.80,259.85 L281.10,259.67 L281.40,260.97 L281.70,261.69 L282.00,261.34 L282.30,263.29 L282.60,263.80 L282.90,265.47 L283.20,265.91 L283.50,266.04 L283.80,265.80 L284.10,267.27 L284.40,266.29 L284.70,266.18 L285.00,266.95 L285.30,267.15 L285.60,268.33 L285.90,270.33 L286.20,268.60 L286.50,269.90 L286.80,270.01 L287.10,270.42 L287.40,270.25 L287.70,271.72 L288.00,270.00 L288.30,270.57 L288.60,270.00 L288.90,274.40 L289.20,268.59 L289.50,269.60 L289.80,269.19 L290.10,268.71 L290.40,269.29 L290.70,269.38 L291.00,270.48 L291.30,269.69 L291.60,270.28 L291.90,267.55 L292.20,266.43 L292.50,262.82 L292.80,251.94 L293.10,250.61 L293.40,252.09 L293.70,250.96 L294.00,249.28 L294.30,248.83 L294.60,250.07 L294.90,250.25 L295.20,249.29 L295.50,248.98 L295.80,249.68 L296.10,250.61 L296.40,249.56 L296.70,249.61 L297.00,249.57 L297.30,249.36 L297.60,250.61 L297.90,251.19 L298.20,251.08 L298.50,250.12 L298.80,249.57 L299.10,249.26 L299.40,250.31 L299.70,249.67 L300.00,248.72 L300.30,246.44 L300.60,246.44 L300.90,246.31 L301.20,247.81 L301.50,248.69 L301.80,248.81 L302.10,249.12 L302.40,250.56 L302.70,250.38 L303.00,250.19 L303.30,250.21 L303.60,250.13 L303.90,251.64 L304.20,251.71 L304.50,251.54 L304.80,250.91 L305.10,250.32 L305.40,248.58 L305.70,249.19 L306.00,249.76 L306.30,249.52 L306.60,248.62 L306.90,248.35 L307.20,246.86 L307.50,248.14 L307.80,247.17 L308.10,247.09 L308.40,246.23 L308.70,247.09 L309.00,247.16 L309.30,248.15 L309.60,250.97 L309.90,251.77 L310.20,254.92 L310.50,258.23 L310.80,261.41 L311.10,263.84 L311.40,263.81 L311.70,265.37 L312.00,267.60 L312.30,268.75 L312.60,272.13 L312.90,275.00 L313.20,270.61 L313.50,270.46 L313.80,271.67 L314.10,271.91 L314.40,271.53 L314.70,270.89 L315.00,272.76 L315.30,269.82 L315.60,268.87 L315.90,268.55 L316.20,271.00 L316.50,269.76 L316.80,271.67 L317.10,272.79 L317.40,272.05 L317.70,272.98 L318.00,275.00 L318.30,273.09 L318.60,271.51 L318.90,270.51 L319.20,268.14 L319.50,266.67 L319.80,264.12 L320.10,261.75 L320.40,256.57 L320.70,255.94 L321.00,254.08 L321.30,251.87 L321.60,251.00 L321.90,249.30 L322.20,249.59 L322.50,249.20 L322.80,249.16 L323.10,250.20 L323.40,249.75 L323.70,251.30 L324.00,251.13 L324.30,251.45 L324.60,251.03 L324.90,248.59 L325.20,248.48 L325.50,249.21 L325.80,250.13 L326.10,249.52 L326.40,248.74 L326.70,248.87 L327.00,248.67 L327.30,249.23 L327.60,247.49 L327.90,247.46 L328.20,248.36 L328.50,247.23 L328.80,247.69 L329.10,246.64 L329.40,246.62 L329.70,247.71" fill="none" stroke="#ff00ff" stroke-width="1.6" stroke-linejoin="round"/>
<line x1="39.0" y1="23.0" x2="330" y2="23.0" stroke="#ff0000" stroke-width="2.0" stroke-dasharray="8.5 6.76"/>
<line x1="39.0" y1="93.7" x2="330" y2="93.7" stroke="#ff0000" stroke-width="2.0" stroke-dasharray="8.5 6.76"/>
<line x1="39.0" y1="189.0" x2="330" y2="189.0" stroke="#ff0000" stroke-width="2.0" stroke-dasharray="8.5 6.76"/>
<line x1="39.0" y1="261.8" x2="330" y2="261.8" stroke="#ff0000" stroke-width="2.0" stroke-dasharray="8.5 6.76"/>
<text x="90.9" y="9.4" style="font-family:'Liberation Serif',serif;font-weight:bold;font-size:10px;fill:#f00;stroke:#f00;stroke-width:0.25px">Initial change</text>
<line x1="122.8" y1="10.3" x2="129.5" y2="16.6" stroke="#f00" stroke-width="1.3"/>
<path d="M132.2,19.2 L126.9,17.2 L129.6,14.2 Z" fill="#f00"/>
<text x="39.60" y="52.7" text-anchor="middle" class="t">0</text>
<text x="112.10" y="52.7" text-anchor="middle" class="t">400</text>
<text x="184.60" y="52.7" text-anchor="middle" class="t">800</text>
<text x="257.10" y="52.7" text-anchor="middle" class="t">1200</text>
<text x="329.60" y="52.7" text-anchor="middle" class="t">1600</text>
<text x="39.60" y="123.6" text-anchor="middle" class="t">0</text>
<text x="112.10" y="123.6" text-anchor="middle" class="t">400</text>
<text x="184.60" y="123.6" text-anchor="middle" class="t">800</text>
<text x="257.10" y="123.6" text-anchor="middle" class="t">1200</text>
<text x="329.60" y="123.6" text-anchor="middle" class="t">1600</text>
<text x="39.60" y="221.3" text-anchor="middle" class="t">0</text>
<text x="112.10" y="221.3" text-anchor="middle" class="t">400</text>
<text x="184.60" y="221.3" text-anchor="middle" class="t">800</text>
<text x="257.10" y="221.3" text-anchor="middle" class="t">1200</text>
<text x="329.60" y="221.3" text-anchor="middle" class="t">1600</text>
<text x="39.60" y="292.0" text-anchor="middle" class="t">0</text>
<text x="112.10" y="292.0" text-anchor="middle" class="t">400</text>
<text x="184.60" y="292.0" text-anchor="middle" class="t">800</text>
<text x="257.10" y="292.0" text-anchor="middle" class="t">1200</text>
<text x="329.60" y="292.0" text-anchor="middle" class="t">1600</text>
<text x="28.5" y="24.2" text-anchor="end" class="t">10</text><text x="30.0" y="19.0" class="sup">-2</text>
<text x="28.5" y="44.1" text-anchor="end" class="t">10</text><text x="30.0" y="38.9" class="sup">-4</text>
<text x="31.0" y="80.0" text-anchor="end" class="t">10</text><text x="32.5" y="74.0" class="sup">0</text>
<text x="29.5" y="191.5" text-anchor="end" class="t">10</text><text x="30.3" y="186.3" class="sup">-2</text>
<text x="29.5" y="205.8" text-anchor="end" class="t">10</text><text x="30.3" y="200.60000000000002" class="sup">-4</text>
<text x="31.0" y="248.5" text-anchor="end" class="t">10</text><text x="32.5" y="242.5" class="sup">0</text>
<text transform="translate(14.0,20.3) rotate(-90)" text-anchor="middle" class="t">Td<tspan class="sup2" dx="0" dy="-6.3">2</tspan></text>
<text transform="translate(16.6,91.4) rotate(-90)" text-anchor="middle" class="t">Te<tspan class="sup2" dx="0" dy="-6.3">2</tspan></text>
<text transform="translate(13.8,189.5) rotate(-90)" text-anchor="middle" class="t">Sd<tspan class="sup2" dx="0" dy="-6.3">2</tspan></text>
<text transform="translate(16.6,260.5) rotate(-90)" text-anchor="middle" class="t">Se<tspan class="sup2" dx="0" dy="-6.3">2</tspan></text>
<text x="185" y="136.6" text-anchor="middle" class="t">Sample Point</text>
<text x="185" y="305.6" text-anchor="middle" class="t">Sample Point</text>
<text x="178.7" y="154.6" text-anchor="middle" class="cap">(a) Steady state</text>
<text x="178.7" y="324.1" text-anchor="middle" class="cap">(b) Dynamics</text>
</svg>
</body></html>
